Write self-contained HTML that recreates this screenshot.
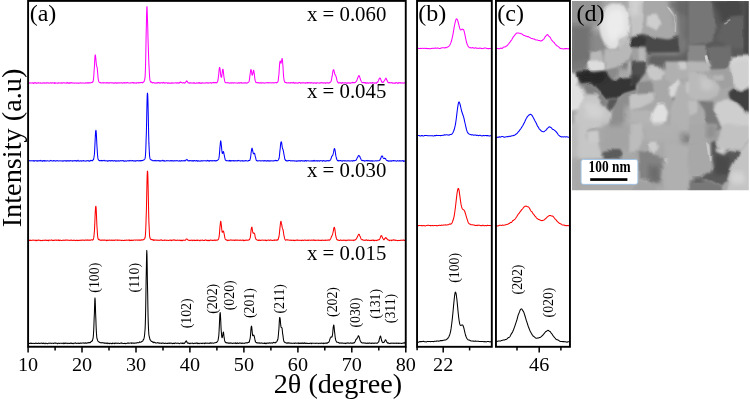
<!DOCTYPE html><html><head><meta charset="utf-8"><style>html,body{margin:0;padding:0;background:#fff}body{width:750px;height:400px;overflow:hidden;position:relative}</style></head><body><svg width="750" height="400" viewBox="0 0 750 400" style="position:absolute;left:0;top:0;will-change:transform;font-family:'Liberation Serif',serif">
<rect width="750" height="400" fill="#fff"/>
<defs><clipPath id="semclip"><rect x="572.0" y="1.0" width="176.79999999999995" height="189.2"/></clipPath><filter id="b3" x="-20%" y="-20%" width="140%" height="140%"><feGaussianBlur stdDeviation="2.4"/></filter><filter id="b15" x="-20%" y="-20%" width="140%" height="140%"><feGaussianBlur stdDeviation="1.2"/></filter><filter id="b08" x="-20%" y="-20%" width="140%" height="140%"><feGaussianBlur stdDeviation="0.7"/></filter><filter id="org" filterUnits="userSpaceOnUse" x="560" y="-10" width="200" height="210"><feTurbulence type="fractalNoise" baseFrequency="0.05" numOctaves="2" seed="3" result="t"/><feDisplacementMap in="SourceGraphic" in2="t" scale="5" xChannelSelector="R" yChannelSelector="G" result="d"/><feGaussianBlur in="d" stdDeviation="0.5"/></filter></defs>
<g clip-path="url(#semclip)"><g filter="url(#org)">
<rect x="566" y="-5" width="190" height="200" fill="#a8a8a8"/>
<g filter="url(#b3)"><polygon points="568.8,-3.2 604.0,-3.2 604.0,25.6 568.8,25.6" fill="#949494"/><polygon points="568.8,24.0 592.8,24.0 592.8,67.2 568.8,67.2" fill="#727272"/><polygon points="591.2,32.0 610.4,32.0 610.4,52.8 591.2,52.8" fill="#8a8a8a"/><polygon points="620.0,51.2 636.0,51.2 636.0,67.2 620.0,67.2" fill="#707070"/></g>
<g filter="url(#b15)"><polygon points="598.9,26.4 601.6,16.0 605.9,7.2 612.0,3.2 623.5,4.0 628.0,11.2 629.6,24.0 628.0,34.9 620.8,43.2 615.5,49.0 609.1,49.6 604.8,44.8 600.8,36.0" fill="#e0e0e0"/></g>
<g filter="url(#b3)"><polygon points="604.8,24.0 608.0,12.8 613.6,8.8 621.6,9.6 624.8,17.6 624.0,32.0 617.6,40.0 611.2,43.2 607.2,36.8" fill="#ececec"/></g>
<g filter="url(#b15)"><polygon points="627.2,-1.6 636.0,-1.6 636.0,15.2 628.3,14.4" fill="#c8c8c8"/><polygon points="618.4,39.2 627.2,36.0 629.6,46.4 624.8,51.5 618.7,49.9" fill="#c0c0c0"/><polygon points="590.4,52.0 601.6,50.4 603.2,65.6 589.6,65.6" fill="#b8b8b8"/><polygon points="630.4,-1.6 644.8,-1.6 644.0,20.8 640.0,33.6 630.4,36.0" fill="#c4c4c4"/></g>
<g filter="url(#b3)"><polygon points="630.4,-1.6 640.0,-1.6 638.4,14.4 630.4,16.0" fill="#d2d2d2"/></g>
<g filter="url(#b15)"><polygon points="644.8,-1.6 666.4,-1.6 675.2,14.4 676.0,33.6 668.8,38.4 656.0,36.8 641.6,32.0 644.0,20.8" fill="#a8a8a8"/><polygon points="647.2,16.0 656.0,14.4 661.6,22.4 656.0,30.4 646.4,25.6" fill="#cecece"/></g>
<g filter="url(#b08)"><polygon points="667.5,6.4 669.1,5.8 676.8,16.0 676.2,32.0 674.6,32.0 674.9,16.8" fill="#d0d0d0"/></g>
<g filter="url(#b3)"><polygon points="668.8,-1.6 696.0,-1.6 696.0,67.2 680.0,67.2 677.6,33.6 676.5,15.2" fill="#727272"/><polygon points="677.6,-1.6 696.0,-1.6 696.0,16.0 677.6,16.0" fill="#686868"/></g>
<g filter="url(#b15)"><polygon points="630.4,36.5 641.6,33.9 656.0,37.8 668.8,39.4 678.4,36.0 680.0,52.8 648.0,53.6 646.4,48.0 630.4,47.4" fill="#484848"/><polygon points="630.4,37.1 640.0,35.5 646.4,40.0 644.8,46.7 630.4,46.7" fill="#383838"/><polygon points="630.4,48.0 646.4,48.0 646.4,67.2 630.4,67.2" fill="#a0a0a0"/><polygon points="638.4,49.9 645.1,49.3 646.1,60.8 639.2,61.4" fill="#b8b8b8"/></g>
<g filter="url(#b3)"><polygon points="648.0,53.6 696.0,53.6 696.0,67.2 648.0,67.2" fill="#626262"/></g>
<g filter="url(#b15)"><polygon points="680.0,40.0 691.2,39.2 692.0,48.0 680.8,48.8" fill="#787878"/></g>
<g filter="url(#b3)"><polygon points="688.4,-1.6 754.0,-1.6 754.0,67.2 688.4,67.2" fill="#5a5a5a"/><polygon points="710.8,-1.6 742.8,-1.6 742.8,19.2 722.0,22.4" fill="#464646"/></g>
<g filter="url(#b15)"><polygon points="688.4,-1.6 710.8,-1.6 714.0,17.6 715.6,28.8 714.0,40.0 706.0,43.2 688.4,44.8" fill="#767676"/><polygon points="722.0,22.4 730.0,17.6 744.4,16.0 747.6,48.0 728.4,48.0 717.2,40.0" fill="#626262"/></g>
<g filter="url(#b08)"><polygon points="723.9,22.4 730.0,18.9 730.6,20.2 724.9,23.7" fill="#989898"/></g>
<g filter="url(#b3)"><polygon points="744.4,-1.6 750.8,-1.6 750.8,67.2 744.4,67.2" fill="#424242"/></g>
<g filter="url(#b15)"><polygon points="688.4,44.8 706.0,44.8 706.0,67.2 688.4,67.2" fill="#888888"/></g>
<g filter="url(#b08)"><polygon points="703.6,56.8 706.0,56.0 710.0,65.6 706.0,65.6" fill="#d0d0d0"/></g>
<g filter="url(#b15)"><polygon points="706.0,46.4 730.0,46.4 731.6,67.2 709.2,67.2" fill="#6e6e6e"/><polygon points="731.9,56.3 750.8,55.2 750.8,67.2 730.0,67.2" fill="#d4d4d4"/></g>
<g filter="url(#b3)"><polygon points="570.4,61.4 588.0,61.4 588.0,71.0 570.4,71.0" fill="#787878"/></g>
<g filter="url(#b15)"><polygon points="588.0,61.4 604.0,61.4 604.8,69.4 592.8,71.8 588.8,69.4" fill="#dcdcdc"/><polygon points="604.0,61.4 620.0,61.4 618.4,75.8 613.6,80.6 608.8,75.8 604.8,69.4" fill="#8a8a8a"/><polygon points="626.4,61.4 636.0,61.4 636.0,75.0 628.0,72.6" fill="#b8b8b8"/><polygon points="576.8,71.8 588.0,71.0 592.8,72.6 605.6,70.2 610.4,77.4 614.4,81.4 620.0,77.4 636.0,76.6 636.0,90.2 624.8,93.4 618.4,97.4 610.4,97.4 606.4,100.6 597.6,90.2 589.6,83.0 581.6,83.8 576.8,79.0" fill="#343434"/></g>
<g filter="url(#b3)"><polygon points="579.2,72.9 603.2,72.3 606.4,79.0 600.8,83.0 591.2,81.4 581.6,81.9" fill="#262626"/></g>
<g filter="url(#b15)"><polygon points="570.4,71.8 576.0,74.2 578.4,80.6 576.8,83.8 583.2,91.8 584.8,99.8 578.4,109.4 570.4,111.0" fill="#e0e0e0"/><polygon points="581.6,84.6 589.6,83.0 597.6,90.2 606.4,100.6 607.2,106.2 602.4,104.6 596.0,95.0 586.4,93.4" fill="#808080"/><polygon points="608.8,97.4 618.4,97.4 617.6,104.6 610.4,111.0 606.4,107.8" fill="#585858"/><polygon points="584.8,95.0 596.0,94.2 602.4,104.6 612.0,112.6 612.0,120.6 605.6,128.6 575.2,128.6 574.4,115.8 578.4,109.4" fill="#c6c6c6"/></g>
<g filter="url(#b3)"><polygon points="583.2,103.0 597.6,101.4 604.0,111.0 600.8,119.0 586.4,117.4" fill="#d2d2d2"/></g>
<g filter="url(#b15)"><polygon points="618.4,97.4 624.8,93.4 636.0,90.2 636.0,130.2 608.8,130.2 612.0,115.8 612.8,109.4" fill="#8e8e8e"/></g>
<g filter="url(#b3)"><polygon points="624.8,107.8 636.0,107.8 636.0,130.2 624.8,130.2" fill="#b0b0b0"/></g>
<g filter="url(#b15)"><polygon points="604.5,48.8 619.5,50.0 625.8,40.0 632.0,50.0 629.5,60.0 617.0,67.5 604.5,70.0" fill="#b8b8b8"/><polygon points="630.4,61.4 646.4,61.4 645.6,72.6 638.4,82.2 630.4,85.4" fill="#505050"/></g>
<g filter="url(#b3)"><polygon points="630.4,75.8 638.4,75.8 638.4,83.8 630.4,83.8" fill="#383838"/></g>
<g filter="url(#b15)"><polygon points="646.4,69.4 651.2,64.6 658.4,65.4 664.8,71.8 662.4,79.0 656.0,80.6 649.6,78.2" fill="#c8c8c8"/><polygon points="664.0,61.4 696.0,61.4 696.0,79.0 680.0,79.0 672.0,83.8 665.6,79.0" fill="#b0b0b0"/><polygon points="678.4,61.4 686.4,61.4 686.4,69.4 678.4,69.4" fill="#cccccc"/><polygon points="638.4,82.2 651.2,80.6 652.8,93.4 636.8,95.0" fill="#8c8c8c"/><polygon points="669.6,87.0 678.4,79.0 680.8,83.8 677.6,93.4 672.0,97.4 668.0,94.2" fill="#d8d8d8"/><polygon points="672.8,97.4 678.4,95.8 676.8,104.6 672.8,106.2" fill="#585858"/><polygon points="630.4,95.0 652.8,93.4 654.4,99.8 641.6,106.2 630.4,109.4" fill="#c4c4c4"/><polygon points="652.8,111.0 657.6,103.0 664.0,103.0 668.0,111.0 666.4,120.6 660.8,128.6 652.8,128.6 651.2,119.0" fill="#e0e0e0"/><polygon points="678.4,83.8 696.0,79.0 696.0,130.2 672.0,130.2 670.4,111.0" fill="#b2b2b2"/><polygon points="686.4,82.2 696.0,82.2 696.0,91.8 686.4,91.8" fill="#cccccc"/><polygon points="630.4,109.4 651.2,109.4 651.2,130.2 630.4,130.2" fill="#b4b4b4"/><polygon points="688.4,61.4 709.2,61.4 710.8,69.4 704.4,72.6 688.4,71.0" fill="#b6b6b6"/><polygon points="688.4,72.6 704.4,74.2 714.0,80.6 720.4,88.6 717.2,95.0 707.6,99.8 696.4,99.8 688.4,95.0" fill="#bababa"/></g>
<g filter="url(#b3)"><polygon points="699.6,77.4 710.8,79.0 716.4,87.0 709.2,90.2 701.2,87.0" fill="#c8c8c8"/></g>
<g filter="url(#b15)"><polygon points="730.0,66.2 738.0,61.4 754.0,61.4 754.0,83.8 741.2,91.0 734.8,87.0 733.2,75.8" fill="#d0d0d0"/><polygon points="710.8,71.0 730.0,67.8 733.2,87.0 722.0,90.2" fill="#a0a0a0"/><polygon points="714.0,74.2 723.6,74.2 723.6,80.6 714.0,80.6" fill="#b6b6b6"/><polygon points="728.4,93.4 733.2,89.4 741.2,91.8 754.0,87.0 754.0,114.2 742.8,109.4 736.4,103.0 730.0,99.0" fill="#404040"/><polygon points="712.4,109.4 715.6,103.0 727.6,99.0 736.4,103.8 743.6,111.0 754.0,117.4 754.0,130.2 723.6,130.2 717.2,117.4" fill="#cecece"/><polygon points="688.4,99.8 696.4,100.6 698.0,111.0 688.4,115.8" fill="#bebebe"/><polygon points="688.4,115.8 704.4,111.0 707.6,130.2 688.4,130.2" fill="#aaaaaa"/><polygon points="698.0,101.4 712.4,101.4 712.4,109.4 717.2,117.4 722.0,130.2 707.6,130.2 704.4,111.0" fill="#7a7a7a"/><polygon points="570.4,124.4 588.0,124.4 586.4,135.6 588.0,142.0 599.2,142.0 602.4,151.6 600.8,158.0 570.4,159.6" fill="#c6c6c6"/><polygon points="587.2,132.4 598.4,131.6 599.5,142.0 588.0,142.3" fill="#cacaca"/></g>
<g filter="url(#b3)"><polygon points="570.4,124.4 576.8,124.4 576.8,193.2 570.4,193.2" fill="#b8b8b8"/><polygon points="602.4,124.4 636.0,124.4 636.0,150.0 602.4,150.0" fill="#a4a4a4"/></g>
<g filter="url(#b15)"><polygon points="603.2,151.6 608.8,150.0 620.0,150.0 623.2,154.8 620.0,158.8 604.0,158.8" fill="#5c5c5c"/></g>
<g filter="url(#b3)"><polygon points="570.4,159.6 581.6,159.6 581.6,193.2 570.4,193.2" fill="#a8a8a8"/><polygon points="580.8,184.4 636.0,184.4 636.0,193.2 580.8,193.2" fill="#aaaaaa"/></g>
<g filter="url(#b15)"><polygon points="630.4,124.4 641.6,124.4 643.2,138.8 638.4,148.4 630.4,153.2" fill="#bcbcbc"/></g>
<g filter="url(#b3)"><polygon points="643.2,124.4 680.0,124.4 680.0,142.0 643.2,142.0" fill="#b0b0b0"/></g>
<g filter="url(#b15)"><polygon points="648.0,143.6 656.0,141.2 658.4,150.0 652.8,154.8 648.0,150.0" fill="#cccccc"/><polygon points="638.4,150.0 648.0,151.6 652.8,155.6 662.4,158.0 664.0,166.0 660.8,178.8 654.4,183.6 648.0,178.8 640.0,178.8 639.2,158.0" fill="#828282"/></g>
<g filter="url(#b3)"><polygon points="649.6,166.0 660.8,166.0 660.8,182.0 649.6,182.0" fill="#6c6c6c"/></g>
<g filter="url(#b08)"><polygon points="663.2,158.8 667.2,157.2 674.4,167.6 671.2,170.0" fill="#d8d8d8"/></g>
<g filter="url(#b3)"><polygon points="664.0,142.0 696.0,142.0 696.0,193.2 664.0,193.2" fill="#b0b0b0"/><polygon points="681.6,132.4 696.0,132.4 696.0,143.6 681.6,143.6" fill="#808080"/></g>
<g filter="url(#b15)"><polygon points="638.4,180.4 654.4,183.6 656.0,193.2 630.4,193.2" fill="#a2a2a2"/><polygon points="688.4,124.4 717.2,124.4 715.6,138.8 709.2,142.0 704.4,140.4 688.4,146.8" fill="#a8a8a8"/></g>
<g filter="url(#b3)"><polygon points="706.0,124.4 717.2,124.4 717.2,138.8 706.0,138.8" fill="#909090"/></g>
<g filter="url(#b15)"><polygon points="688.4,146.8 704.4,140.4 709.2,145.2 710.8,161.2 714.0,170.8 706.0,172.4 699.6,178.8 688.4,180.4" fill="#a8a8a8"/></g>
<g filter="url(#b08)"><polygon points="706.0,142.0 709.5,144.9 711.4,161.5 708.9,162.2" fill="#c8c8c8"/></g>
<g filter="url(#b15)"><polygon points="717.2,142.0 722.0,129.2 724.4,124.4 754.0,124.4 754.0,135.6 741.2,150.0 726.8,148.4 722.0,152.4" fill="#c2c2c2"/><polygon points="714.8,149.2 724.4,148.4 723.6,154.0 716.4,154.0" fill="#d0d0d0"/><polygon points="710.8,142.0 717.2,140.4 715.6,150.0 724.4,154.8 728.4,150.0 741.2,151.6 738.0,158.0 731.6,167.6 728.4,178.8 722.0,186.8 706.0,178.8 699.6,178.8 706.0,172.4 714.0,170.8 711.6,161.2" fill="#5a5a5a"/></g>
<g filter="url(#b3)"><polygon points="714.0,154.8 731.6,154.8 731.6,174.0 714.0,174.0" fill="#484848"/></g>
<g filter="url(#b15)"><polygon points="688.4,180.4 699.6,178.8 706.0,178.8 722.0,186.8 722.0,193.2 688.4,193.2" fill="#787878"/></g>
<g filter="url(#b3)"><polygon points="693.2,177.5 702.8,177.5 702.8,182.0 693.2,182.0" fill="#505050"/></g>
<g filter="url(#b15)"><polygon points="741.2,150.0 754.0,137.2 754.0,193.2 726.8,193.2 730.0,178.8 731.6,169.2 738.0,158.0" fill="#c4c4c4"/></g>
<g filter="url(#b3)"><polygon points="731.6,172.4 744.4,171.6 745.2,183.6 732.4,183.9" fill="#d4d4d4"/></g>
</g></g>
<rect x="581.05" y="159.45" width="56.8" height="24.9" rx="2.3" fill="#fff" stroke="#9cc3e6" stroke-width="0.9"/>
<text transform="translate(609.6,171.9) scale(1,1.2)" font-size="13.4" font-weight="bold" text-anchor="middle">100 nm</text>
<rect x="590.2" y="178.2" width="37.2" height="2.7" fill="#000"/>
<polyline points="28.1,82.8 28.3,82.8 28.5,82.9 28.7,83.0 29.0,82.9 29.2,82.9 29.4,83.0 29.6,82.9 29.8,82.8 30.0,82.9 30.3,82.9 30.5,82.9 30.7,83.0 30.9,83.1 31.1,83.0 31.3,82.9 31.6,82.9 31.8,83.0 32.0,83.1 32.2,83.0 32.4,83.0 32.6,82.9 32.8,82.7 33.1,82.9 33.3,83.4 33.5,83.4 33.7,83.1 33.9,83.0 34.1,82.9 34.4,82.8 34.6,82.7 34.8,83.0 35.0,82.9 35.2,82.6 35.4,82.7 35.7,82.8 35.9,83.1 36.1,83.2 36.3,83.0 36.5,83.0 36.7,83.2 36.9,83.1 37.2,83.1 37.4,83.1 37.6,83.0 37.8,82.9 38.0,83.0 38.2,83.0 38.5,82.8 38.7,82.8 38.9,82.9 39.1,83.0 39.3,82.9 39.5,82.9 39.8,82.9 40.0,83.0 40.2,82.9 40.4,83.0 40.6,83.1 40.8,83.1 41.0,82.9 41.3,83.0 41.5,83.1 41.7,83.2 41.9,83.0 42.1,83.0 42.3,82.9 42.6,82.9 42.8,83.1 43.0,82.9 43.2,82.8 43.4,83.0 43.6,83.0 43.9,82.9 44.1,82.8 44.3,82.8 44.5,83.0 44.7,83.2 44.9,83.1 45.1,83.0 45.4,82.9 45.6,83.0 45.8,83.2 46.0,83.2 46.2,82.9 46.4,82.8 46.7,83.0 46.9,83.0 47.1,82.9 47.3,82.8 47.5,82.8 47.7,82.9 48.0,83.0 48.2,82.9 48.4,83.0 48.6,83.2 48.8,83.1 49.0,83.1 49.2,83.1 49.5,83.0 49.7,83.0 49.9,82.9 50.1,82.9 50.3,82.8 50.5,82.7 50.8,82.9 51.0,83.1 51.2,83.1 51.4,82.8 51.6,82.9 51.8,83.0 52.1,83.0 52.3,82.9 52.5,82.8 52.7,82.9 52.9,83.0 53.1,83.0 53.3,83.0 53.6,83.0 53.8,82.8 54.0,82.8 54.2,83.2 54.4,83.4 54.6,82.9 54.9,82.6 55.1,83.0 55.3,83.1 55.5,83.0 55.7,83.1 55.9,83.1 56.2,83.0 56.4,82.9 56.6,82.9 56.8,82.9 57.0,83.0 57.2,83.1 57.4,83.1 57.7,83.1 57.9,83.1 58.1,83.2 58.3,83.1 58.5,82.8 58.7,82.9 59.0,82.9 59.2,82.9 59.4,83.0 59.6,83.0 59.8,82.9 60.0,83.0 60.3,83.0 60.5,82.9 60.7,83.0 60.9,83.2 61.1,83.2 61.3,82.9 61.5,82.8 61.8,83.0 62.0,83.2 62.2,83.2 62.4,83.0 62.6,82.8 62.8,83.0 63.1,83.0 63.3,82.9 63.5,82.8 63.7,82.7 63.9,82.6 64.1,82.8 64.4,83.0 64.6,83.0 64.8,83.0 65.0,82.9 65.2,82.9 65.4,83.0 65.6,83.1 65.9,83.0 66.1,83.0 66.3,83.1 66.5,82.8 66.7,82.7 66.9,82.8 67.2,82.9 67.4,82.9 67.6,82.5 67.8,82.7 68.0,83.1 68.2,83.1 68.5,83.1 68.7,83.1 68.9,83.1 69.1,82.9 69.3,82.7 69.5,82.9 69.7,83.2 70.0,83.2 70.2,83.1 70.4,82.9 70.6,82.8 70.8,82.9 71.0,82.9 71.3,82.6 71.5,82.6 71.7,82.9 71.9,83.0 72.1,83.0 72.3,83.1 72.6,83.0 72.8,82.8 73.0,83.0 73.2,83.0 73.4,82.9 73.6,83.0 73.8,83.1 74.1,83.0 74.3,83.1 74.5,83.1 74.7,83.1 74.9,83.0 75.1,83.0 75.4,83.0 75.6,82.9 75.8,82.9 76.0,82.9 76.2,83.0 76.4,83.1 76.7,83.1 76.9,83.1 77.1,83.0 77.3,83.1 77.5,83.1 77.7,82.9 77.9,82.9 78.2,83.1 78.4,83.2 78.6,83.0 78.8,83.0 79.0,83.1 79.2,83.0 79.5,83.0 79.7,83.1 79.9,83.0 80.1,82.9 80.3,83.0 80.5,83.0 80.8,82.8 81.0,83.0 81.2,83.1 81.4,83.0 81.6,82.9 81.8,82.9 82.0,82.9 82.3,82.9 82.5,82.9 82.7,83.0 82.9,82.9 83.1,83.0 83.3,83.1 83.6,82.9 83.8,82.9 84.0,83.0 84.2,83.0 84.4,83.0 84.6,83.2 84.9,83.2 85.1,83.1 85.3,83.1 85.5,83.0 85.7,82.8 85.9,82.8 86.2,83.0 86.4,83.0 86.6,83.0 86.8,83.0 87.0,82.7 87.2,82.8 87.4,83.0 87.7,82.8 87.9,82.9 88.1,83.1 88.3,82.8 88.5,82.7 88.7,82.9 89.0,82.9 89.2,82.8 89.4,82.9 89.6,82.8 89.8,82.8 90.0,82.9 90.3,83.0 90.5,82.9 90.7,82.8 90.9,82.6 91.1,82.5 91.3,82.5 91.5,82.5 91.8,82.6 92.0,82.6 92.2,82.3 92.4,82.0 92.6,82.1 92.8,81.9 93.1,81.3 93.3,80.4 93.5,79.1 93.7,77.0 93.9,74.2 94.1,70.8 94.4,67.0 94.6,63.0 94.8,59.2 95.0,56.4 95.2,54.9 95.4,55.2 95.6,56.9 95.9,59.2 96.1,61.7 96.3,63.9 96.5,65.4 96.7,66.2 96.9,66.7 97.2,67.7 97.4,69.7 97.6,72.0 97.8,74.5 98.0,76.9 98.2,79.0 98.5,80.5 98.7,81.4 98.9,81.9 99.1,82.0 99.3,82.2 99.5,82.4 99.7,82.6 100.0,82.7 100.2,82.7 100.4,82.6 100.6,82.5 100.8,82.6 101.0,82.9 101.3,83.0 101.5,82.9 101.7,82.9 101.9,83.0 102.1,83.0 102.3,82.8 102.6,82.7 102.8,82.8 103.0,83.0 103.2,82.9 103.4,82.8 103.6,82.9 103.8,83.0 104.1,82.8 104.3,82.7 104.5,82.7 104.7,82.8 104.9,82.9 105.1,82.9 105.4,82.9 105.6,82.9 105.8,82.8 106.0,82.8 106.2,82.9 106.4,83.0 106.7,82.8 106.9,82.7 107.1,82.8 107.3,83.0 107.5,82.9 107.7,82.6 107.9,82.7 108.2,83.0 108.4,83.0 108.6,82.9 108.8,83.1 109.0,83.1 109.2,82.9 109.5,82.8 109.7,82.9 109.9,82.9 110.1,82.8 110.3,82.7 110.5,82.7 110.8,82.8 111.0,83.0 111.2,83.0 111.4,82.9 111.6,82.7 111.8,82.8 112.0,82.9 112.3,82.8 112.5,82.8 112.7,82.9 112.9,83.0 113.1,83.1 113.3,83.2 113.6,83.0 113.8,82.9 114.0,83.0 114.2,83.0 114.4,83.1 114.6,83.1 114.9,82.9 115.1,82.8 115.3,83.0 115.5,82.9 115.7,82.7 115.9,82.7 116.1,82.8 116.4,83.1 116.6,83.3 116.8,83.1 117.0,83.1 117.2,83.1 117.4,83.0 117.7,82.8 117.9,82.8 118.1,82.9 118.3,82.8 118.5,82.9 118.7,82.9 119.0,82.9 119.2,82.9 119.4,82.8 119.6,82.9 119.8,82.9 120.0,82.9 120.2,82.9 120.5,82.9 120.7,82.7 120.9,82.7 121.1,82.8 121.3,82.7 121.5,82.8 121.8,83.0 122.0,83.0 122.2,82.9 122.4,83.0 122.6,83.2 122.8,83.2 123.1,83.1 123.3,83.0 123.5,82.7 123.7,82.6 123.9,82.7 124.1,82.8 124.3,83.0 124.6,82.9 124.8,82.6 125.0,82.5 125.2,82.7 125.4,82.9 125.6,83.0 125.9,83.0 126.1,83.1 126.3,83.0 126.5,82.8 126.7,82.6 126.9,82.7 127.2,82.6 127.4,82.6 127.6,82.7 127.8,82.6 128.0,82.7 128.2,82.9 128.4,82.9 128.7,82.9 128.9,83.0 129.1,82.9 129.3,82.9 129.5,82.9 129.7,83.0 130.0,83.1 130.2,83.1 130.4,82.9 130.6,82.8 130.8,82.8 131.0,82.8 131.3,82.8 131.5,83.0 131.7,82.9 131.9,82.8 132.1,82.7 132.3,82.6 132.5,82.5 132.8,82.7 133.0,82.7 133.2,82.6 133.4,82.9 133.6,83.1 133.8,83.1 134.1,82.9 134.3,82.7 134.5,82.7 134.7,82.9 134.9,82.9 135.1,83.0 135.4,83.1 135.6,83.0 135.8,82.9 136.0,82.9 136.2,82.7 136.4,83.0 136.6,83.2 136.9,83.0 137.1,82.8 137.3,82.8 137.5,82.8 137.7,82.7 137.9,82.8 138.2,83.0 138.4,82.9 138.6,82.7 138.8,82.9 139.0,83.0 139.2,82.8 139.5,82.6 139.7,82.6 139.9,82.7 140.1,82.7 140.3,82.6 140.5,82.7 140.7,82.7 141.0,82.4 141.2,82.3 141.4,82.5 141.6,82.5 141.8,82.5 142.0,82.8 142.3,82.9 142.5,82.8 142.7,82.6 142.9,82.4 143.1,82.2 143.3,82.2 143.6,82.2 143.8,81.8 144.0,81.4 144.2,81.2 144.4,80.9 144.6,80.2 144.8,78.9 145.1,76.6 145.3,72.7 145.5,66.7 145.7,58.5 145.9,48.2 146.1,36.4 146.4,24.2 146.6,13.8 146.8,7.7 147.0,6.5 147.2,10.4 147.4,17.5 147.7,25.7 147.9,33.7 148.1,40.9 148.3,47.3 148.5,53.2 148.7,59.0 148.9,64.6 149.2,69.4 149.4,73.4 149.6,76.7 149.8,79.0 150.0,80.4 150.2,81.1 150.5,81.4 150.7,81.9 150.9,82.3 151.1,82.1 151.3,81.9 151.5,82.0 151.8,82.2 152.0,82.5 152.2,82.9 152.4,83.0 152.6,82.9 152.8,82.7 153.0,82.5 153.3,82.5 153.5,82.6 153.7,82.6 153.9,82.7 154.1,82.8 154.3,82.7 154.6,83.0 154.8,83.3 155.0,83.1 155.2,83.0 155.4,83.2 155.6,83.1 155.9,83.0 156.1,83.1 156.3,83.1 156.5,83.0 156.7,82.8 156.9,82.7 157.1,82.8 157.4,83.1 157.6,83.0 157.8,82.7 158.0,82.5 158.2,82.6 158.4,82.7 158.7,82.6 158.9,82.8 159.1,83.0 159.3,83.1 159.5,82.9 159.7,82.7 160.0,82.9 160.2,83.1 160.4,83.1 160.6,82.9 160.8,82.8 161.0,82.8 161.2,82.8 161.5,82.7 161.7,82.7 161.9,82.6 162.1,82.7 162.3,82.9 162.5,83.1 162.8,83.0 163.0,82.9 163.2,82.7 163.4,82.4 163.6,82.5 163.8,82.8 164.1,82.8 164.3,82.8 164.5,83.1 164.7,83.0 164.9,82.9 165.1,83.0 165.3,83.1 165.6,82.9 165.8,82.8 166.0,82.8 166.2,82.8 166.4,82.8 166.6,82.8 166.9,82.8 167.1,83.0 167.3,83.3 167.5,83.4 167.7,83.3 167.9,83.0 168.2,82.8 168.4,82.9 168.6,83.1 168.8,83.1 169.0,83.1 169.2,83.1 169.4,83.1 169.7,83.2 169.9,83.0 170.1,83.0 170.3,83.2 170.5,83.3 170.7,83.2 171.0,83.1 171.2,83.2 171.4,83.3 171.6,82.9 171.8,82.7 172.0,82.7 172.3,82.8 172.5,83.0 172.7,83.2 172.9,83.0 173.1,83.1 173.3,83.1 173.5,82.9 173.8,82.9 174.0,82.9 174.2,82.9 174.4,82.9 174.6,83.0 174.8,83.0 175.1,83.0 175.3,82.9 175.5,82.8 175.7,82.7 175.9,82.8 176.1,83.0 176.4,83.0 176.6,83.0 176.8,83.3 177.0,83.2 177.2,82.8 177.4,82.7 177.6,82.8 177.9,82.8 178.1,82.9 178.3,83.1 178.5,83.2 178.7,83.2 178.9,83.0 179.2,82.8 179.4,82.8 179.6,83.0 179.8,82.7 180.0,82.2 180.2,82.0 180.5,82.1 180.7,82.4 180.9,82.5 181.1,82.4 181.3,82.5 181.5,82.5 181.7,82.5 182.0,82.8 182.2,82.9 182.4,83.0 182.6,83.0 182.8,83.0 183.0,82.9 183.3,82.8 183.5,82.6 183.7,82.6 183.9,82.8 184.1,82.8 184.3,83.0 184.6,83.1 184.8,83.1 185.0,82.9 185.2,82.6 185.4,82.3 185.6,82.1 185.8,81.9 186.1,81.7 186.3,81.4 186.5,81.2 186.7,80.9 186.9,81.0 187.1,81.4 187.4,81.8 187.6,82.2 187.8,82.5 188.0,82.7 188.2,82.9 188.4,82.9 188.7,82.8 188.9,82.7 189.1,82.7 189.3,82.9 189.5,83.1 189.7,83.1 189.9,83.1 190.2,82.9 190.4,82.7 190.6,82.8 190.8,83.0 191.0,83.0 191.2,83.0 191.5,83.1 191.7,83.0 191.9,82.9 192.1,83.0 192.3,83.0 192.5,83.0 192.8,83.1 193.0,83.1 193.2,82.9 193.4,82.7 193.6,82.8 193.8,83.1 194.1,83.2 194.3,82.9 194.5,82.8 194.7,83.1 194.9,83.2 195.1,83.2 195.3,83.2 195.6,83.3 195.8,83.3 196.0,83.3 196.2,83.3 196.4,83.0 196.6,82.8 196.9,82.8 197.1,82.9 197.3,83.0 197.5,83.2 197.7,83.1 197.9,82.9 198.2,82.8 198.4,82.8 198.6,83.0 198.8,83.1 199.0,82.8 199.2,82.6 199.4,82.6 199.7,83.0 199.9,83.3 200.1,83.2 200.3,82.9 200.5,82.9 200.7,83.0 201.0,83.2 201.2,83.4 201.4,83.3 201.6,82.9 201.8,82.8 202.0,83.0 202.3,83.0 202.5,82.8 202.7,82.7 202.9,83.0 203.1,83.1 203.3,83.0 203.5,82.9 203.8,82.9 204.0,83.0 204.2,83.1 204.4,83.0 204.6,83.0 204.8,83.0 205.1,82.9 205.3,82.9 205.5,83.0 205.7,82.9 205.9,82.8 206.1,82.9 206.4,82.9 206.6,82.8 206.8,82.8 207.0,82.9 207.2,83.0 207.4,83.1 207.6,82.9 207.9,82.7 208.1,82.9 208.3,83.1 208.5,83.1 208.7,83.0 208.9,83.0 209.2,83.0 209.4,83.0 209.6,82.8 209.8,82.8 210.0,82.8 210.2,82.7 210.5,82.6 210.7,82.8 210.9,83.0 211.1,83.2 211.3,83.2 211.5,83.1 211.7,82.8 212.0,82.6 212.2,82.7 212.4,82.8 212.6,82.9 212.8,82.8 213.0,82.6 213.3,82.6 213.5,82.5 213.7,82.4 213.9,82.6 214.1,82.9 214.3,82.7 214.6,82.6 214.8,82.7 215.0,82.8 215.2,82.6 215.4,82.6 215.6,82.5 215.8,82.5 216.1,82.9 216.3,83.0 216.5,82.8 216.7,82.6 216.9,82.5 217.1,82.3 217.4,82.1 217.6,81.5 217.8,80.8 218.0,80.0 218.2,78.6 218.4,76.8 218.7,74.7 218.9,72.4 219.1,70.0 219.3,68.3 219.5,67.5 219.7,67.5 219.9,68.3 220.2,70.0 220.4,72.2 220.6,74.2 220.8,75.7 221.0,76.6 221.2,77.2 221.5,77.3 221.7,76.5 221.9,75.0 222.1,73.4 222.3,71.7 222.5,70.1 222.8,69.3 223.0,69.2 223.2,70.1 223.4,71.9 223.6,73.9 223.8,75.8 224.0,77.5 224.3,79.0 224.5,80.2 224.7,81.0 224.9,81.7 225.1,82.3 225.3,82.4 225.6,82.5 225.8,82.8 226.0,82.9 226.2,82.8 226.4,82.7 226.6,82.7 226.9,82.7 227.1,82.8 227.3,82.9 227.5,82.8 227.7,82.6 227.9,82.6 228.1,82.6 228.4,82.8 228.6,83.0 228.8,82.9 229.0,82.9 229.2,83.0 229.4,83.1 229.7,83.1 229.9,83.1 230.1,82.9 230.3,82.8 230.5,82.9 230.7,83.0 231.0,82.9 231.2,82.9 231.4,83.1 231.6,82.9 231.8,82.7 232.0,82.7 232.2,82.7 232.5,82.7 232.7,82.7 232.9,83.0 233.1,83.3 233.3,83.1 233.5,82.9 233.8,82.9 234.0,82.8 234.2,82.7 234.4,82.7 234.6,82.7 234.8,82.9 235.1,82.9 235.3,83.0 235.5,83.0 235.7,82.9 235.9,82.9 236.1,82.9 236.3,83.0 236.6,83.0 236.8,83.0 237.0,83.0 237.2,83.1 237.4,83.1 237.6,83.0 237.9,83.1 238.1,83.1 238.3,82.8 238.5,82.7 238.7,82.7 238.9,82.7 239.2,82.7 239.4,83.0 239.6,83.2 239.8,83.0 240.0,82.8 240.2,82.7 240.4,82.7 240.7,82.7 240.9,82.9 241.1,83.1 241.3,82.9 241.5,82.6 241.7,82.6 242.0,82.8 242.2,82.9 242.4,83.0 242.6,83.0 242.8,83.1 243.0,83.3 243.3,83.1 243.5,82.9 243.7,82.9 243.9,82.8 244.1,82.7 244.3,82.8 244.5,82.9 244.8,83.2 245.0,83.1 245.2,82.8 245.4,82.9 245.6,82.9 245.8,82.8 246.1,82.8 246.3,82.9 246.5,83.1 246.7,83.3 246.9,83.2 247.1,83.1 247.4,82.9 247.6,82.7 247.8,82.7 248.0,82.6 248.2,82.3 248.4,82.2 248.6,82.1 248.9,81.7 249.1,81.2 249.3,80.4 249.5,79.1 249.7,77.4 249.9,75.6 250.2,73.8 250.4,72.2 250.6,70.6 250.8,69.6 251.0,69.5 251.2,70.2 251.5,71.2 251.7,72.7 251.9,74.2 252.1,75.0 252.3,75.2 252.5,74.9 252.7,74.2 253.0,73.0 253.2,71.8 253.4,70.7 253.6,70.2 253.8,70.7 254.0,72.0 254.3,73.5 254.5,75.5 254.7,77.4 254.9,78.9 255.1,80.1 255.3,80.9 255.6,81.6 255.8,82.3 256.0,82.5 256.2,82.4 256.4,82.5 256.6,82.7 256.8,82.8 257.1,82.8 257.3,82.9 257.5,82.8 257.7,82.4 257.9,82.4 258.1,82.5 258.4,82.7 258.6,82.9 258.8,82.9 259.0,82.7 259.2,82.8 259.4,83.0 259.7,83.0 259.9,82.9 260.1,82.8 260.3,83.0 260.5,82.9 260.7,82.7 260.9,82.8 261.2,83.0 261.4,83.1 261.6,83.1 261.8,82.9 262.0,82.8 262.2,82.7 262.5,82.7 262.7,82.9 262.9,82.9 263.1,82.8 263.3,82.9 263.5,83.0 263.8,82.9 264.0,83.0 264.2,83.1 264.4,83.1 264.6,83.0 264.8,82.9 265.0,82.9 265.3,82.9 265.5,83.0 265.7,82.9 265.9,82.8 266.1,82.8 266.3,82.8 266.6,82.8 266.8,82.8 267.0,82.9 267.2,82.9 267.4,82.7 267.6,82.5 267.9,82.6 268.1,82.8 268.3,82.7 268.5,82.9 268.7,83.0 268.9,82.9 269.1,82.8 269.4,82.8 269.6,82.9 269.8,82.8 270.0,82.7 270.2,82.8 270.4,82.9 270.7,82.9 270.9,82.8 271.1,82.7 271.3,82.8 271.5,82.9 271.7,83.0 272.0,83.0 272.2,82.9 272.4,82.7 272.6,82.7 272.8,82.7 273.0,82.6 273.2,82.6 273.5,82.9 273.7,83.0 273.9,82.9 274.1,82.9 274.3,82.9 274.5,82.7 274.8,82.7 275.0,82.7 275.2,82.7 275.4,82.7 275.6,82.5 275.8,82.5 276.1,82.6 276.3,82.7 276.5,82.7 276.7,82.9 276.9,82.7 277.1,82.3 277.3,82.3 277.6,82.2 277.8,81.8 278.0,81.4 278.2,80.6 278.4,79.0 278.6,77.0 278.9,74.7 279.1,71.9 279.3,68.6 279.5,65.7 279.7,63.3 279.9,61.7 280.2,61.0 280.4,61.5 280.6,62.2 280.8,62.8 281.0,63.2 281.2,62.7 281.4,61.4 281.7,60.1 281.9,59.0 282.1,58.5 282.3,59.0 282.5,60.5 282.7,63.3 283.0,66.9 283.2,70.5 283.4,73.8 283.6,76.4 283.8,78.3 284.0,79.6 284.3,80.8 284.5,81.7 284.7,82.1 284.9,82.3 285.1,82.4 285.3,82.4 285.5,82.3 285.8,82.3 286.0,82.5 286.2,82.9 286.4,83.0 286.6,82.8 286.8,82.6 287.1,82.8 287.3,82.9 287.5,82.9 287.7,83.0 287.9,83.0 288.1,82.8 288.4,82.8 288.6,82.9 288.8,82.8 289.0,82.9 289.2,83.0 289.4,82.9 289.6,82.8 289.9,82.9 290.1,83.0 290.3,82.9 290.5,82.7 290.7,82.6 290.9,82.9 291.2,82.9 291.4,82.8 291.6,82.7 291.8,82.7 292.0,82.6 292.2,82.7 292.5,83.0 292.7,83.0 292.9,82.8 293.1,82.6 293.3,82.4 293.5,82.6 293.7,82.9 294.0,83.0 294.2,83.2 294.4,83.2 294.6,82.9 294.8,82.8 295.0,82.9 295.3,82.8 295.5,83.0 295.7,83.1 295.9,82.9 296.1,82.8 296.3,82.9 296.6,82.9 296.8,82.9 297.0,82.9 297.2,83.1 297.4,83.3 297.6,83.2 297.8,83.0 298.1,82.9 298.3,82.8 298.5,82.7 298.7,82.9 298.9,82.8 299.1,82.6 299.4,82.5 299.6,82.5 299.8,82.5 300.0,82.7 300.2,82.9 300.4,83.1 300.7,83.1 300.9,82.9 301.1,82.8 301.3,82.9 301.5,82.9 301.7,82.9 302.0,82.8 302.2,82.8 302.4,82.9 302.6,82.9 302.8,82.8 303.0,82.7 303.2,83.0 303.5,82.9 303.7,82.7 303.9,82.8 304.1,82.8 304.3,82.8 304.5,83.0 304.8,83.1 305.0,83.0 305.2,83.3 305.4,83.3 305.6,82.9 305.8,82.7 306.1,82.8 306.3,82.9 306.5,83.0 306.7,82.9 306.9,82.7 307.1,82.6 307.3,82.9 307.6,83.1 307.8,82.8 308.0,82.6 308.2,82.6 308.4,82.7 308.6,82.9 308.9,82.9 309.1,82.8 309.3,82.8 309.5,82.9 309.7,82.8 309.9,82.8 310.2,83.0 310.4,83.1 310.6,82.9 310.8,82.7 311.0,82.6 311.2,82.6 311.4,82.8 311.7,82.9 311.9,82.7 312.1,82.7 312.3,82.9 312.5,83.0 312.7,82.9 313.0,82.9 313.2,82.9 313.4,83.1 313.6,83.3 313.8,83.1 314.0,82.8 314.3,82.8 314.5,82.9 314.7,82.8 314.9,82.8 315.1,82.8 315.3,82.9 315.5,83.2 315.8,83.3 316.0,83.3 316.2,83.4 316.4,83.1 316.6,82.7 316.8,82.7 317.1,82.7 317.3,82.7 317.5,82.8 317.7,83.0 317.9,82.9 318.1,82.9 318.4,82.9 318.6,83.0 318.8,82.9 319.0,82.9 319.2,82.9 319.4,83.1 319.6,83.1 319.9,82.9 320.1,82.9 320.3,82.9 320.5,82.7 320.7,82.8 320.9,82.9 321.2,82.8 321.4,82.7 321.6,82.6 321.8,82.5 322.0,82.7 322.2,83.0 322.5,83.0 322.7,82.8 322.9,82.9 323.1,83.0 323.3,83.0 323.5,82.7 323.7,82.7 324.0,83.1 324.2,83.0 324.4,82.8 324.6,82.7 324.8,82.7 325.0,82.9 325.3,83.1 325.5,83.3 325.7,83.2 325.9,82.8 326.1,82.9 326.3,83.0 326.6,83.0 326.8,83.0 327.0,82.8 327.2,82.6 327.4,82.7 327.6,82.9 327.8,82.8 328.1,83.0 328.3,83.2 328.5,83.2 328.7,83.0 328.9,82.9 329.1,83.0 329.4,83.0 329.6,82.7 329.8,82.4 330.0,82.5 330.2,82.4 330.4,82.0 330.7,81.7 330.9,81.6 331.1,81.2 331.3,80.6 331.5,79.8 331.7,78.4 331.9,77.0 332.2,76.0 332.4,74.8 332.6,73.2 332.8,71.9 333.0,70.8 333.2,70.0 333.5,69.7 333.7,69.8 333.9,70.3 334.1,71.0 334.3,71.9 334.5,73.0 334.8,74.0 335.0,74.6 335.2,74.9 335.4,75.3 335.6,75.6 335.8,76.0 336.0,76.5 336.3,77.3 336.5,78.2 336.7,79.3 336.9,80.2 337.1,80.8 337.3,81.4 337.6,81.8 337.8,82.2 338.0,82.6 338.2,82.9 338.4,82.9 338.6,82.8 338.9,82.9 339.1,83.0 339.3,82.8 339.5,82.6 339.7,82.7 339.9,82.9 340.1,83.0 340.4,83.0 340.6,82.7 340.8,82.6 341.0,82.9 341.2,83.1 341.4,82.9 341.7,82.9 341.9,83.2 342.1,82.9 342.3,82.5 342.5,82.6 342.7,82.7 343.0,82.7 343.2,82.8 343.4,83.0 343.6,83.0 343.8,82.9 344.0,82.9 344.2,83.0 344.5,83.1 344.7,82.9 344.9,82.7 345.1,82.8 345.3,82.8 345.5,82.7 345.8,83.0 346.0,83.2 346.2,83.1 346.4,83.1 346.6,83.1 346.8,83.0 347.1,83.1 347.3,83.3 347.5,83.1 347.7,82.8 347.9,82.8 348.1,82.9 348.3,82.9 348.6,82.9 348.8,82.8 349.0,82.8 349.2,83.0 349.4,83.1 349.6,83.2 349.9,83.0 350.1,82.8 350.3,83.1 350.5,83.3 350.7,83.2 350.9,83.0 351.2,83.0 351.4,82.9 351.6,82.8 351.8,82.7 352.0,82.5 352.2,82.3 352.4,82.2 352.7,82.6 352.9,83.0 353.1,83.0 353.3,82.7 353.5,82.5 353.7,82.5 354.0,82.6 354.2,82.7 354.4,82.7 354.6,82.6 354.8,82.7 355.0,82.5 355.3,82.3 355.5,82.3 355.7,82.0 355.9,81.7 356.1,81.6 356.3,81.4 356.5,81.1 356.8,80.6 357.0,80.0 357.2,79.4 357.4,78.8 357.6,78.3 357.8,77.7 358.1,77.0 358.3,76.4 358.5,76.1 358.7,75.8 358.9,75.5 359.1,75.7 359.4,76.3 359.6,76.8 359.8,77.3 360.0,77.9 360.2,78.6 360.4,79.3 360.6,79.8 360.9,80.4 361.1,80.9 361.3,81.4 361.5,81.8 361.7,82.1 361.9,82.3 362.2,82.4 362.4,82.6 362.6,82.7 362.8,82.6 363.0,82.5 363.2,82.4 363.5,82.6 363.7,82.8 363.9,82.7 364.1,82.6 364.3,82.8 364.5,82.6 364.7,82.6 365.0,82.9 365.2,83.1 365.4,82.8 365.6,82.5 365.8,82.7 366.0,83.1 366.3,83.1 366.5,83.1 366.7,83.0 366.9,83.1 367.1,83.2 367.3,82.9 367.6,82.7 367.8,82.9 368.0,82.9 368.2,82.9 368.4,83.1 368.6,83.3 368.8,83.2 369.1,83.0 369.3,82.9 369.5,82.9 369.7,82.8 369.9,82.7 370.1,82.8 370.4,83.0 370.6,82.9 370.8,82.8 371.0,83.0 371.2,83.0 371.4,83.0 371.7,83.0 371.9,83.2 372.1,83.0 372.3,82.6 372.5,82.6 372.7,82.9 372.9,82.9 373.2,82.8 373.4,82.9 373.6,82.9 373.8,83.0 374.0,83.0 374.2,83.0 374.5,83.1 374.7,83.3 374.9,83.0 375.1,82.8 375.3,82.8 375.5,82.9 375.8,82.9 376.0,82.9 376.2,83.2 376.4,83.2 376.6,82.9 376.8,82.7 377.0,82.4 377.3,82.1 377.5,82.2 377.7,82.2 377.9,81.7 378.1,81.3 378.3,80.9 378.6,80.2 378.8,79.6 379.0,79.2 379.2,78.8 379.4,78.3 379.6,78.1 379.9,78.1 380.1,78.0 380.3,78.3 380.5,78.8 380.7,79.3 380.9,79.7 381.1,80.2 381.4,81.0 381.6,81.6 381.8,81.9 382.0,82.2 382.2,82.4 382.4,82.4 382.7,82.3 382.9,82.3 383.1,82.4 383.3,82.3 383.5,82.0 383.7,81.5 384.0,81.1 384.2,80.8 384.4,80.5 384.6,80.3 384.8,80.1 385.0,79.6 385.2,79.2 385.5,78.8 385.7,78.3 385.9,78.1 386.1,78.3 386.3,78.7 386.5,79.3 386.8,79.9 387.0,80.3 387.2,80.7 387.4,81.1 387.6,81.5 387.8,82.1 388.1,82.5 388.3,82.7 388.5,82.6 388.7,82.5 388.9,82.6 389.1,82.6 389.3,82.5 389.6,82.7 389.8,82.9 390.0,83.0 390.2,83.0 390.4,82.8 390.6,82.7 390.9,82.7 391.1,82.7 391.3,82.6 391.5,82.6 391.7,82.8 391.9,82.9 392.2,82.7 392.4,82.9 392.6,83.2 392.8,83.2 393.0,83.1 393.2,83.0 393.4,82.9 393.7,82.9 393.9,83.1 394.1,83.3 394.3,83.3 394.5,83.1 394.7,83.0 395.0,83.2 395.2,83.4 395.4,83.3 395.6,83.0 395.8,82.6 396.0,82.5 396.3,82.8 396.5,82.7 396.7,82.6 396.9,82.7 397.1,82.9 397.3,83.2 397.5,83.2 397.8,83.2 398.0,83.0 398.2,82.9 398.4,83.1 398.6,83.1 398.8,82.8 399.1,82.6 399.3,82.6 399.5,82.8 399.7,83.0 399.9,83.0 400.1,82.8 400.4,82.9 400.6,82.9 400.8,82.7 401.0,82.9 401.2,83.1 401.4,83.0 401.6,82.9 401.9,82.8 402.1,82.7 402.3,82.7 402.5,83.0 402.7,83.1 402.9,83.1 403.2,83.1 403.4,83.0 403.6,82.9 403.8,82.9 404.0,83.0 404.2,83.0 404.5,82.8 404.7,83.0 404.9,83.1 405.1,83.1 405.3,83.1 405.5,83.1 405.7,83.0" fill="none" stroke="#ff00ff" stroke-width="1.05" stroke-linejoin="round"/>
<polyline points="28.1,160.9 28.3,160.9 28.5,161.1 28.7,161.1 29.0,160.7 29.2,160.6 29.4,160.8 29.6,160.7 29.8,160.8 30.0,160.8 30.3,160.8 30.5,160.8 30.7,161.0 30.9,160.9 31.1,160.8 31.3,160.8 31.6,160.8 31.8,160.9 32.0,160.9 32.2,160.9 32.4,160.8 32.6,160.7 32.8,160.8 33.1,160.8 33.3,160.9 33.5,160.7 33.7,160.6 33.9,161.1 34.1,161.3 34.4,161.1 34.6,160.8 34.8,160.7 35.0,160.6 35.2,160.7 35.4,160.7 35.7,160.8 35.9,160.8 36.1,160.8 36.3,161.0 36.5,161.0 36.7,160.7 36.9,160.6 37.2,160.9 37.4,161.1 37.6,160.9 37.8,160.8 38.0,160.7 38.2,160.8 38.5,160.9 38.7,160.7 38.9,160.7 39.1,161.0 39.3,160.8 39.5,160.7 39.8,160.7 40.0,160.5 40.2,160.4 40.4,160.7 40.6,160.9 40.8,160.9 41.0,160.8 41.3,160.8 41.5,160.9 41.7,160.8 41.9,160.8 42.1,161.1 42.3,161.3 42.6,161.2 42.8,160.8 43.0,160.6 43.2,160.6 43.4,160.8 43.6,160.9 43.9,160.8 44.1,160.9 44.3,161.1 44.5,160.9 44.7,160.6 44.9,160.6 45.1,160.8 45.4,160.9 45.6,160.9 45.8,160.8 46.0,160.9 46.2,161.0 46.4,161.0 46.7,161.0 46.9,160.8 47.1,160.7 47.3,160.8 47.5,160.8 47.7,160.8 48.0,160.9 48.2,161.0 48.4,160.9 48.6,160.9 48.8,161.0 49.0,161.0 49.2,161.0 49.5,161.1 49.7,161.1 49.9,161.0 50.1,160.7 50.3,160.6 50.5,160.5 50.8,160.4 51.0,160.7 51.2,160.8 51.4,160.7 51.6,160.8 51.8,160.9 52.1,160.9 52.3,161.0 52.5,161.0 52.7,160.9 52.9,160.9 53.1,160.9 53.3,160.6 53.6,160.6 53.8,160.8 54.0,160.9 54.2,160.9 54.4,160.8 54.6,160.7 54.9,160.7 55.1,160.9 55.3,161.0 55.5,161.1 55.7,161.1 55.9,161.0 56.2,160.9 56.4,160.7 56.6,160.7 56.8,160.8 57.0,160.9 57.2,160.7 57.4,160.6 57.7,160.7 57.9,160.8 58.1,161.0 58.3,161.0 58.5,160.9 58.7,160.9 59.0,160.9 59.2,161.0 59.4,160.9 59.6,160.8 59.8,160.7 60.0,160.7 60.3,160.8 60.5,160.9 60.7,160.9 60.9,161.0 61.1,161.0 61.3,160.9 61.5,160.9 61.8,160.8 62.0,160.7 62.2,160.7 62.4,160.9 62.6,161.1 62.8,161.1 63.1,161.1 63.3,161.1 63.5,160.9 63.7,160.8 63.9,160.8 64.1,160.7 64.4,160.7 64.6,160.8 64.8,160.9 65.0,160.8 65.2,160.8 65.4,160.9 65.6,160.7 65.9,160.8 66.1,161.1 66.3,161.1 66.5,160.9 66.7,160.7 66.9,160.7 67.2,161.0 67.4,161.0 67.6,160.9 67.8,160.8 68.0,160.6 68.2,160.7 68.5,160.8 68.7,160.9 68.9,161.1 69.1,160.9 69.3,160.7 69.5,160.9 69.7,160.9 70.0,160.7 70.2,160.5 70.4,160.8 70.6,160.9 70.8,160.8 71.0,161.0 71.3,160.9 71.5,160.8 71.7,160.8 71.9,160.8 72.1,160.7 72.3,160.8 72.6,161.2 72.8,161.3 73.0,160.9 73.2,160.7 73.4,160.7 73.6,160.8 73.8,160.8 74.1,160.7 74.3,160.7 74.5,160.8 74.7,160.9 74.9,160.6 75.1,160.7 75.4,160.8 75.6,160.6 75.8,160.6 76.0,161.0 76.2,161.1 76.4,160.8 76.7,160.8 76.9,161.0 77.1,161.0 77.3,160.8 77.5,160.9 77.7,160.7 77.9,160.3 78.2,160.3 78.4,160.6 78.6,160.8 78.8,160.9 79.0,161.1 79.2,161.0 79.5,161.0 79.7,161.2 79.9,161.1 80.1,160.9 80.3,160.8 80.5,160.7 80.8,160.8 81.0,161.0 81.2,161.2 81.4,161.2 81.6,160.9 81.8,160.8 82.0,160.7 82.3,160.8 82.5,161.0 82.7,161.0 82.9,161.0 83.1,160.9 83.3,160.6 83.6,160.6 83.8,160.9 84.0,161.0 84.2,161.0 84.4,161.0 84.6,160.9 84.9,161.0 85.1,161.0 85.3,161.0 85.5,161.0 85.7,161.1 85.9,161.2 86.2,161.1 86.4,161.0 86.6,160.9 86.8,160.7 87.0,160.5 87.2,160.6 87.4,160.7 87.7,160.7 87.9,160.7 88.1,160.6 88.3,160.7 88.5,160.9 88.7,160.7 89.0,160.8 89.2,161.1 89.4,161.1 89.6,161.0 89.8,161.1 90.0,161.1 90.3,160.9 90.5,160.7 90.7,160.4 90.9,160.3 91.1,160.4 91.3,160.5 91.5,160.5 91.8,160.6 92.0,160.8 92.2,160.9 92.4,160.7 92.6,160.3 92.8,160.0 93.1,160.0 93.3,159.9 93.5,159.6 93.7,158.7 93.9,157.7 94.1,156.5 94.4,154.4 94.6,151.3 94.8,147.4 95.0,143.2 95.2,138.8 95.4,134.7 95.6,131.6 95.9,130.3 96.1,131.0 96.3,133.4 96.5,137.0 96.7,141.0 96.9,145.3 97.2,149.6 97.4,153.0 97.6,155.5 97.8,157.4 98.0,158.7 98.2,159.4 98.5,159.8 98.7,160.1 98.9,160.3 99.1,160.3 99.3,160.6 99.5,160.8 99.7,160.7 100.0,160.5 100.2,160.5 100.4,160.7 100.6,160.8 100.8,160.7 101.0,160.6 101.3,160.5 101.5,160.4 101.7,160.7 101.9,161.0 102.1,160.9 102.3,160.7 102.6,160.6 102.8,160.6 103.0,160.5 103.2,160.4 103.4,160.5 103.6,160.7 103.8,160.7 104.1,160.7 104.3,160.8 104.5,160.6 104.7,160.4 104.9,160.6 105.1,160.7 105.4,160.8 105.6,160.9 105.8,160.9 106.0,160.9 106.2,160.9 106.4,160.8 106.7,160.7 106.9,160.7 107.1,160.8 107.3,160.9 107.5,161.2 107.7,161.3 107.9,161.0 108.2,160.8 108.4,160.9 108.6,161.0 108.8,160.9 109.0,160.7 109.2,160.6 109.5,160.7 109.7,160.8 109.9,160.9 110.1,160.9 110.3,160.8 110.5,160.8 110.8,161.0 111.0,161.0 111.2,160.7 111.4,160.5 111.6,160.6 111.8,160.8 112.0,160.8 112.3,160.7 112.5,160.5 112.7,160.5 112.9,160.7 113.1,161.0 113.3,161.0 113.6,161.1 113.8,161.0 114.0,160.7 114.2,160.7 114.4,160.8 114.6,160.6 114.9,160.7 115.1,160.9 115.3,160.8 115.5,160.9 115.7,161.1 115.9,161.1 116.1,160.9 116.4,161.0 116.6,161.1 116.8,160.9 117.0,160.7 117.2,160.8 117.4,160.9 117.7,160.9 117.9,161.0 118.1,160.8 118.3,160.8 118.5,160.9 118.7,160.9 119.0,160.8 119.2,160.9 119.4,161.0 119.6,161.1 119.8,161.0 120.0,160.9 120.2,160.8 120.5,160.7 120.7,160.5 120.9,160.7 121.1,160.9 121.3,160.9 121.5,160.8 121.8,160.7 122.0,160.7 122.2,160.6 122.4,160.6 122.6,160.8 122.8,160.8 123.1,160.7 123.3,160.5 123.5,160.8 123.7,161.1 123.9,161.2 124.1,161.2 124.3,161.1 124.6,161.1 124.8,161.1 125.0,161.0 125.2,160.8 125.4,160.8 125.6,161.0 125.9,161.1 126.1,161.1 126.3,161.2 126.5,161.2 126.7,161.0 126.9,160.8 127.2,160.8 127.4,160.9 127.6,160.7 127.8,160.8 128.0,160.8 128.2,160.8 128.4,160.9 128.7,160.8 128.9,160.7 129.1,160.9 129.3,160.9 129.5,160.7 129.7,160.5 130.0,160.4 130.2,160.6 130.4,160.8 130.6,160.8 130.8,160.7 131.0,160.7 131.3,160.9 131.5,160.9 131.7,160.8 131.9,160.7 132.1,160.6 132.3,160.6 132.5,160.6 132.8,160.7 133.0,160.9 133.2,161.0 133.4,161.0 133.6,160.9 133.8,160.8 134.1,160.9 134.3,160.9 134.5,160.8 134.7,160.9 134.9,161.0 135.1,160.8 135.4,160.9 135.6,161.2 135.8,161.1 136.0,160.8 136.2,160.9 136.4,160.9 136.6,160.8 136.9,160.6 137.1,160.7 137.3,160.6 137.5,160.6 137.7,160.7 137.9,160.7 138.2,160.8 138.4,160.9 138.6,160.9 138.8,160.7 139.0,160.7 139.2,160.9 139.5,160.8 139.7,160.4 139.9,160.4 140.1,160.7 140.3,160.9 140.5,160.9 140.7,160.7 141.0,160.6 141.2,160.7 141.4,160.4 141.6,160.4 141.8,160.6 142.0,160.7 142.3,160.6 142.5,160.5 142.7,160.5 142.9,160.5 143.1,160.2 143.3,160.0 143.6,159.9 143.8,159.9 144.0,159.9 144.2,159.8 144.4,159.5 144.6,159.3 144.8,159.0 145.1,158.2 145.3,156.9 145.5,154.7 145.7,151.5 145.9,146.6 146.1,139.9 146.4,131.7 146.6,122.2 146.8,112.2 147.0,103.0 147.2,96.0 147.4,93.0 147.7,94.4 147.9,99.5 148.1,107.5 148.3,117.1 148.5,127.0 148.7,136.0 148.9,143.4 149.2,149.2 149.4,153.4 149.6,156.0 149.8,157.5 150.0,158.4 150.2,159.2 150.5,159.6 150.7,159.7 150.9,159.7 151.1,159.8 151.3,160.0 151.5,160.1 151.8,160.0 152.0,160.1 152.2,160.3 152.4,160.5 152.6,160.7 152.8,160.7 153.0,160.7 153.3,160.7 153.5,160.7 153.7,160.6 153.9,160.6 154.1,160.5 154.3,160.6 154.6,160.8 154.8,160.8 155.0,160.5 155.2,160.4 155.4,160.6 155.6,160.7 155.9,161.0 156.1,161.0 156.3,160.8 156.5,160.6 156.7,160.8 156.9,160.8 157.1,160.7 157.4,160.8 157.6,160.8 157.8,160.6 158.0,160.7 158.2,160.6 158.4,160.5 158.7,160.8 158.9,160.9 159.1,160.9 159.3,161.0 159.5,160.9 159.7,160.6 160.0,160.8 160.2,161.1 160.4,161.0 160.6,160.7 160.8,160.8 161.0,161.0 161.2,160.9 161.5,160.7 161.7,160.7 161.9,160.8 162.1,160.9 162.3,160.7 162.5,160.5 162.8,160.3 163.0,160.3 163.2,160.7 163.4,160.9 163.6,160.8 163.8,160.8 164.1,161.0 164.3,160.9 164.5,160.7 164.7,160.9 164.9,161.1 165.1,161.1 165.3,161.0 165.6,160.9 165.8,160.9 166.0,161.0 166.2,160.9 166.4,160.8 166.6,160.7 166.9,160.6 167.1,160.8 167.3,160.9 167.5,160.8 167.7,160.7 167.9,160.7 168.2,160.8 168.4,160.8 168.6,160.7 168.8,160.8 169.0,160.9 169.2,160.9 169.4,160.9 169.7,160.9 169.9,160.8 170.1,160.7 170.3,160.8 170.5,161.0 170.7,160.9 171.0,160.6 171.2,160.7 171.4,161.0 171.6,160.9 171.8,160.5 172.0,160.5 172.3,160.6 172.5,160.8 172.7,161.0 172.9,160.9 173.1,160.9 173.3,161.1 173.5,161.0 173.8,160.7 174.0,160.7 174.2,160.8 174.4,160.7 174.6,160.6 174.8,160.9 175.1,161.0 175.3,161.0 175.5,160.8 175.7,160.7 175.9,160.8 176.1,160.8 176.4,160.6 176.6,160.7 176.8,160.8 177.0,160.6 177.2,160.7 177.4,160.7 177.6,160.7 177.9,160.9 178.1,161.1 178.3,161.0 178.5,160.9 178.7,160.9 178.9,160.9 179.2,160.8 179.4,160.6 179.6,160.7 179.8,161.0 180.0,161.0 180.2,161.1 180.5,161.2 180.7,161.0 180.9,160.9 181.1,161.0 181.3,160.9 181.5,160.6 181.7,160.6 182.0,160.7 182.2,160.7 182.4,160.8 182.6,160.9 182.8,160.9 183.0,160.9 183.3,160.9 183.5,160.8 183.7,160.7 183.9,160.6 184.1,160.4 184.3,160.5 184.6,160.9 184.8,161.0 185.0,160.9 185.2,160.9 185.4,160.8 185.6,160.5 185.8,160.2 186.1,160.0 186.3,159.7 186.5,159.7 186.7,159.6 186.9,159.4 187.1,159.6 187.4,160.0 187.6,160.2 187.8,160.6 188.0,160.8 188.2,160.8 188.4,160.9 188.7,160.9 188.9,160.7 189.1,160.5 189.3,160.5 189.5,160.8 189.7,160.9 189.9,160.9 190.2,160.6 190.4,160.5 190.6,160.7 190.8,160.8 191.0,160.8 191.2,160.8 191.5,160.9 191.7,160.9 191.9,160.7 192.1,160.7 192.3,160.6 192.5,160.5 192.8,160.8 193.0,161.2 193.2,161.2 193.4,160.9 193.6,160.7 193.8,160.5 194.1,160.7 194.3,160.8 194.5,160.6 194.7,160.6 194.9,160.8 195.1,160.9 195.3,161.0 195.6,161.0 195.8,160.8 196.0,160.9 196.2,160.8 196.4,160.6 196.6,160.6 196.9,160.6 197.1,160.8 197.3,161.2 197.5,161.2 197.7,160.9 197.9,160.8 198.2,161.0 198.4,161.0 198.6,160.8 198.8,160.8 199.0,161.0 199.2,161.1 199.4,161.0 199.7,161.1 199.9,161.0 200.1,161.0 200.3,161.1 200.5,161.1 200.7,161.0 201.0,160.9 201.2,160.7 201.4,160.6 201.6,160.7 201.8,160.9 202.0,160.9 202.3,160.8 202.5,160.8 202.7,161.0 202.9,160.9 203.1,160.9 203.3,160.8 203.5,160.7 203.8,160.7 204.0,160.8 204.2,160.8 204.4,160.8 204.6,160.8 204.8,160.8 205.1,160.8 205.3,160.7 205.5,160.7 205.7,160.9 205.9,161.0 206.1,161.1 206.4,161.0 206.6,160.9 206.8,160.8 207.0,160.5 207.2,160.3 207.4,160.6 207.6,160.6 207.9,160.7 208.1,160.9 208.3,160.9 208.5,160.7 208.7,160.6 208.9,160.8 209.2,161.1 209.4,161.1 209.6,160.8 209.8,160.6 210.0,160.7 210.2,160.7 210.5,160.6 210.7,160.8 210.9,160.8 211.1,161.0 211.3,161.0 211.5,160.8 211.7,160.6 212.0,160.7 212.2,160.9 212.4,160.9 212.6,160.7 212.8,160.6 213.0,160.6 213.3,160.8 213.5,160.9 213.7,160.8 213.9,160.8 214.1,160.8 214.3,160.6 214.6,160.5 214.8,160.7 215.0,160.9 215.2,160.7 215.4,160.7 215.6,160.9 215.8,160.9 216.1,160.7 216.3,160.6 216.5,160.8 216.7,160.9 216.9,160.7 217.1,160.4 217.4,160.3 217.6,160.3 217.8,160.0 218.0,159.8 218.2,159.8 218.4,159.5 218.7,159.0 218.9,158.2 219.1,157.0 219.3,155.3 219.5,153.1 219.7,150.5 219.9,147.5 220.2,144.7 220.4,142.3 220.6,140.9 220.8,141.0 221.0,142.1 221.2,144.2 221.5,146.8 221.7,149.0 221.9,150.9 222.1,152.4 222.3,153.4 222.5,153.5 222.8,153.0 223.0,152.2 223.2,151.6 223.4,151.5 223.6,151.9 223.8,152.8 224.0,154.0 224.3,155.4 224.5,156.5 224.7,157.4 224.9,158.2 225.1,159.2 225.3,159.9 225.6,160.1 225.8,160.4 226.0,160.6 226.2,160.7 226.4,160.7 226.6,160.5 226.9,160.5 227.1,160.7 227.3,160.8 227.5,160.7 227.7,160.7 227.9,160.8 228.1,160.9 228.4,160.9 228.6,160.8 228.8,160.8 229.0,160.9 229.2,160.8 229.4,160.5 229.7,160.4 229.9,160.7 230.1,161.2 230.3,161.1 230.5,160.9 230.7,160.7 231.0,160.5 231.2,160.7 231.4,161.0 231.6,160.9 231.8,160.7 232.0,160.6 232.2,160.7 232.5,160.8 232.7,160.8 232.9,161.0 233.1,160.9 233.3,160.6 233.5,160.5 233.8,160.9 234.0,161.0 234.2,160.9 234.4,160.7 234.6,160.7 234.8,160.9 235.1,160.9 235.3,160.7 235.5,160.6 235.7,160.8 235.9,160.8 236.1,160.7 236.3,160.7 236.6,160.8 236.8,161.0 237.0,161.1 237.2,160.9 237.4,160.7 237.6,160.6 237.9,160.6 238.1,160.6 238.3,160.5 238.5,160.4 238.7,160.6 238.9,160.7 239.2,160.7 239.4,160.8 239.6,160.8 239.8,160.8 240.0,161.0 240.2,161.1 240.4,161.0 240.7,160.9 240.9,160.7 241.1,160.7 241.3,160.8 241.5,160.8 241.7,160.8 242.0,160.9 242.2,160.7 242.4,160.5 242.6,160.7 242.8,161.0 243.0,160.9 243.3,160.8 243.5,161.0 243.7,161.0 243.9,161.1 244.1,161.2 244.3,161.0 244.5,160.7 244.8,160.7 245.0,160.8 245.2,160.7 245.4,160.5 245.6,160.5 245.8,160.8 246.1,160.9 246.3,160.8 246.5,160.8 246.7,160.8 246.9,160.8 247.1,161.0 247.4,161.0 247.6,161.0 247.8,161.0 248.0,161.0 248.2,160.8 248.4,160.6 248.6,160.6 248.9,160.7 249.1,160.5 249.3,160.3 249.5,160.4 249.7,160.5 249.9,160.1 250.2,159.2 250.4,158.2 250.6,157.2 250.8,155.8 251.0,153.8 251.2,152.0 251.5,150.4 251.7,149.2 251.9,148.4 252.1,148.2 252.3,148.8 252.5,149.8 252.7,151.0 253.0,152.2 253.2,153.1 253.4,153.7 253.6,153.8 253.8,153.6 254.0,153.4 254.3,153.2 254.5,153.2 254.7,153.7 254.9,154.7 255.1,155.7 255.3,156.5 255.6,157.3 255.8,158.4 256.0,159.3 256.2,160.0 256.4,160.5 256.6,160.7 256.8,160.6 257.1,160.6 257.3,160.9 257.5,161.0 257.7,160.9 257.9,160.9 258.1,160.9 258.4,160.8 258.6,160.7 258.8,160.7 259.0,160.7 259.2,160.7 259.4,160.7 259.7,160.8 259.9,160.7 260.1,160.7 260.3,160.7 260.5,160.8 260.7,161.0 260.9,161.1 261.2,161.0 261.4,160.9 261.6,160.8 261.8,160.7 262.0,160.7 262.2,160.7 262.5,160.7 262.7,160.8 262.9,160.9 263.1,160.8 263.3,160.7 263.5,160.9 263.8,160.9 264.0,160.7 264.2,160.6 264.4,160.5 264.6,160.7 264.8,161.0 265.0,161.0 265.3,161.0 265.5,160.7 265.7,160.6 265.9,160.7 266.1,160.8 266.3,160.9 266.6,161.1 266.8,161.1 267.0,161.1 267.2,161.0 267.4,160.8 267.6,160.6 267.9,160.6 268.1,160.8 268.3,160.8 268.5,160.7 268.7,160.9 268.9,161.2 269.1,161.1 269.4,160.8 269.6,160.9 269.8,160.8 270.0,160.8 270.2,161.0 270.4,160.9 270.7,160.8 270.9,160.9 271.1,161.0 271.3,160.9 271.5,160.8 271.7,160.7 272.0,160.7 272.2,160.8 272.4,160.9 272.6,160.9 272.8,161.0 273.0,161.1 273.2,160.9 273.5,160.7 273.7,160.7 273.9,160.8 274.1,160.9 274.3,160.8 274.5,160.8 274.8,160.8 275.0,160.6 275.2,160.4 275.4,160.3 275.6,160.4 275.8,160.6 276.1,160.6 276.3,160.6 276.5,160.5 276.7,160.5 276.9,160.7 277.1,160.7 277.3,160.8 277.6,160.7 277.8,160.5 278.0,160.3 278.2,160.1 278.4,159.8 278.6,159.4 278.9,158.8 279.1,158.1 279.3,156.9 279.5,155.2 279.7,153.1 279.9,150.9 280.2,148.7 280.4,146.4 280.6,144.4 280.8,142.9 281.0,142.1 281.2,141.8 281.4,141.9 281.7,142.8 281.9,144.5 282.1,146.1 282.3,147.4 282.5,148.3 282.7,148.8 283.0,149.4 283.2,150.3 283.4,151.1 283.6,152.1 283.8,153.3 284.0,154.6 284.3,156.0 284.5,157.3 284.7,158.4 284.9,159.3 285.1,159.7 285.3,159.9 285.5,160.3 285.8,160.6 286.0,160.6 286.2,160.6 286.4,160.5 286.6,160.6 286.8,160.9 287.1,160.9 287.3,160.7 287.5,160.9 287.7,160.9 287.9,160.7 288.1,160.7 288.4,160.6 288.6,160.7 288.8,160.7 289.0,160.5 289.2,160.4 289.4,160.5 289.6,160.5 289.9,160.5 290.1,160.7 290.3,160.8 290.5,161.0 290.7,160.9 290.9,160.8 291.2,160.7 291.4,160.7 291.6,160.9 291.8,161.0 292.0,161.0 292.2,160.8 292.5,160.8 292.7,160.9 292.9,160.8 293.1,160.9 293.3,160.9 293.5,160.7 293.7,160.8 294.0,160.8 294.2,160.8 294.4,160.9 294.6,161.0 294.8,161.2 295.0,161.1 295.3,160.9 295.5,160.9 295.7,161.0 295.9,160.8 296.1,160.8 296.3,161.1 296.6,161.1 296.8,161.0 297.0,161.1 297.2,161.1 297.4,160.9 297.6,160.9 297.8,160.8 298.1,160.9 298.3,161.0 298.5,160.8 298.7,160.7 298.9,160.9 299.1,161.0 299.4,160.9 299.6,160.9 299.8,160.7 300.0,160.7 300.2,160.9 300.4,161.1 300.7,160.8 300.9,160.7 301.1,160.8 301.3,160.7 301.5,160.7 301.7,160.6 302.0,160.5 302.2,160.8 302.4,161.0 302.6,161.0 302.8,161.1 303.0,161.1 303.2,161.1 303.5,160.9 303.7,160.7 303.9,160.7 304.1,160.8 304.3,160.9 304.5,161.1 304.8,161.1 305.0,160.8 305.2,160.6 305.4,160.6 305.6,160.6 305.8,160.6 306.1,160.6 306.3,160.7 306.5,161.0 306.7,161.2 306.9,161.0 307.1,160.7 307.3,160.7 307.6,160.7 307.8,160.7 308.0,160.7 308.2,160.8 308.4,160.8 308.6,160.8 308.9,160.9 309.1,161.0 309.3,161.0 309.5,161.0 309.7,160.9 309.9,160.9 310.2,160.9 310.4,160.9 310.6,160.9 310.8,160.9 311.0,160.8 311.2,160.7 311.4,160.7 311.7,160.9 311.9,161.2 312.1,161.1 312.3,160.9 312.5,160.7 312.7,160.8 313.0,160.9 313.2,160.8 313.4,160.5 313.6,160.7 313.8,161.1 314.0,161.2 314.3,161.1 314.5,160.7 314.7,160.4 314.9,160.5 315.1,160.8 315.3,161.0 315.5,161.0 315.8,160.9 316.0,160.9 316.2,161.0 316.4,161.0 316.6,160.9 316.8,160.6 317.1,160.5 317.3,160.7 317.5,160.9 317.7,161.1 317.9,161.2 318.1,161.0 318.4,160.8 318.6,160.7 318.8,160.7 319.0,160.7 319.2,161.0 319.4,161.1 319.6,161.1 319.9,160.9 320.1,160.6 320.3,160.7 320.5,160.7 320.7,160.6 320.9,160.7 321.2,160.8 321.4,160.8 321.6,160.8 321.8,160.8 322.0,160.7 322.2,160.7 322.5,161.1 322.7,161.1 322.9,160.8 323.1,160.6 323.3,160.7 323.5,160.7 323.7,160.5 324.0,160.5 324.2,160.8 324.4,160.9 324.6,161.0 324.8,161.1 325.0,160.9 325.3,160.9 325.5,161.1 325.7,161.0 325.9,160.7 326.1,160.7 326.3,160.8 326.6,161.0 326.8,161.0 327.0,160.8 327.2,160.7 327.4,160.6 327.6,160.5 327.8,160.7 328.1,161.0 328.3,161.0 328.5,160.7 328.7,160.6 328.9,160.8 329.1,160.8 329.4,160.7 329.6,160.8 329.8,160.7 330.0,160.4 330.2,160.0 330.4,159.8 330.7,159.5 330.9,159.1 331.1,158.6 331.3,157.8 331.5,157.1 331.7,156.7 331.9,156.3 332.2,155.8 332.4,155.8 332.6,155.6 332.8,155.0 333.0,154.3 333.2,153.7 333.5,152.7 333.7,151.5 333.9,150.4 334.1,149.3 334.3,148.6 334.5,148.5 334.8,149.2 335.0,150.1 335.2,151.0 335.4,152.5 335.6,154.2 335.8,155.4 336.0,156.4 336.3,157.7 336.5,158.6 336.7,159.0 336.9,159.5 337.1,159.9 337.3,160.3 337.6,160.7 337.8,160.7 338.0,160.5 338.2,160.4 338.4,160.6 338.6,160.9 338.9,161.0 339.1,161.0 339.3,160.8 339.5,160.7 339.7,160.6 339.9,160.5 340.1,160.5 340.4,160.6 340.6,160.5 340.8,160.6 341.0,160.9 341.2,161.0 341.4,160.9 341.7,160.8 341.9,160.7 342.1,161.0 342.3,161.2 342.5,160.9 342.7,160.7 343.0,160.8 343.2,160.8 343.4,160.7 343.6,160.6 343.8,160.7 344.0,160.9 344.2,161.0 344.5,161.0 344.7,160.7 344.9,160.6 345.1,160.8 345.3,160.8 345.5,160.8 345.8,160.9 346.0,160.9 346.2,160.8 346.4,161.0 346.6,161.0 346.8,160.9 347.1,160.9 347.3,160.9 347.5,160.8 347.7,160.8 347.9,160.9 348.1,160.9 348.3,160.8 348.6,160.8 348.8,160.9 349.0,160.9 349.2,160.8 349.4,160.9 349.6,160.9 349.9,160.9 350.1,160.9 350.3,161.0 350.5,160.9 350.7,161.0 350.9,161.0 351.2,160.9 351.4,160.8 351.6,160.8 351.8,160.7 352.0,160.8 352.2,160.9 352.4,161.0 352.7,161.1 352.9,160.9 353.1,160.6 353.3,160.6 353.5,160.6 353.7,160.7 354.0,160.9 354.2,160.8 354.4,160.7 354.6,160.6 354.8,160.6 355.0,160.5 355.3,160.4 355.5,160.4 355.7,160.3 355.9,160.2 356.1,160.2 356.3,160.0 356.5,159.4 356.8,158.7 357.0,158.2 357.2,157.8 357.4,157.6 357.6,157.4 357.8,156.9 358.1,156.3 358.3,155.9 358.5,155.6 358.7,155.5 358.9,155.6 359.1,155.7 359.4,155.9 359.6,156.2 359.8,156.6 360.0,157.1 360.2,157.4 360.4,158.0 360.6,158.5 360.9,158.9 361.1,159.4 361.3,159.8 361.5,160.0 361.7,160.4 361.9,160.3 362.2,160.2 362.4,160.5 362.6,160.6 362.8,160.6 363.0,160.6 363.2,160.6 363.5,160.7 363.7,160.8 363.9,160.6 364.1,160.5 364.3,160.7 364.5,161.1 364.7,161.2 365.0,161.0 365.2,160.9 365.4,160.9 365.6,160.8 365.8,160.7 366.0,160.6 366.3,160.6 366.5,160.8 366.7,160.7 366.9,160.5 367.1,160.7 367.3,160.9 367.6,160.8 367.8,160.5 368.0,160.4 368.2,160.5 368.4,160.7 368.6,160.9 368.8,160.8 369.1,160.7 369.3,160.9 369.5,161.0 369.7,161.0 369.9,160.8 370.1,160.7 370.4,160.9 370.6,161.1 370.8,161.0 371.0,160.7 371.2,160.8 371.4,160.9 371.7,160.7 371.9,160.8 372.1,161.1 372.3,161.1 372.5,160.9 372.7,160.8 372.9,160.8 373.2,160.9 373.4,160.9 373.6,160.9 373.8,161.0 374.0,161.0 374.2,161.0 374.5,160.9 374.7,160.9 374.9,160.9 375.1,160.9 375.3,160.8 375.5,160.7 375.8,160.8 376.0,160.9 376.2,160.9 376.4,160.9 376.6,160.9 376.8,160.8 377.0,160.7 377.3,160.7 377.5,160.9 377.7,160.8 377.9,160.7 378.1,160.8 378.3,160.8 378.6,160.8 378.8,160.8 379.0,160.8 379.2,160.5 379.4,160.3 379.6,160.3 379.9,160.1 380.1,159.5 380.3,159.1 380.5,159.0 380.7,158.6 380.9,158.0 381.1,157.2 381.4,156.6 381.6,156.4 381.8,156.2 382.0,155.9 382.2,155.9 382.4,156.1 382.7,156.6 382.9,157.2 383.1,157.7 383.3,158.1 383.5,158.3 383.7,158.3 384.0,158.6 384.2,158.5 384.4,158.2 384.6,158.1 384.8,158.3 385.0,158.5 385.2,158.6 385.5,158.6 385.7,158.9 385.9,159.3 386.1,159.6 386.3,160.0 386.5,160.3 386.8,160.4 387.0,160.5 387.2,160.6 387.4,160.5 387.6,160.6 387.8,160.8 388.1,161.0 388.3,161.1 388.5,161.1 388.7,160.9 388.9,161.0 389.1,161.1 389.3,160.9 389.6,160.9 389.8,160.9 390.0,160.8 390.2,160.7 390.4,161.0 390.6,161.1 390.9,160.9 391.1,161.0 391.3,161.2 391.5,161.2 391.7,160.8 391.9,160.7 392.2,160.8 392.4,160.8 392.6,160.9 392.8,161.0 393.0,160.8 393.2,160.6 393.4,160.6 393.7,160.5 393.9,160.5 394.1,160.9 394.3,160.9 394.5,160.7 394.7,160.7 395.0,160.7 395.2,160.7 395.4,160.7 395.6,160.9 395.8,160.9 396.0,161.0 396.3,161.0 396.5,161.2 396.7,161.2 396.9,161.1 397.1,160.9 397.3,160.7 397.5,160.6 397.8,160.7 398.0,160.8 398.2,161.0 398.4,161.0 398.6,161.0 398.8,160.9 399.1,160.8 399.3,160.7 399.5,160.6 399.7,160.9 399.9,161.1 400.1,161.0 400.4,160.9 400.6,160.8 400.8,160.7 401.0,160.9 401.2,160.9 401.4,160.9 401.6,160.9 401.9,160.8 402.1,160.7 402.3,160.6 402.5,160.6 402.7,160.7 402.9,160.9 403.2,161.2 403.4,161.4 403.6,161.1 403.8,160.7 404.0,160.9 404.2,161.2 404.5,161.0 404.7,161.0 404.9,161.0 405.1,161.0 405.3,160.9 405.5,160.8 405.7,160.8" fill="none" stroke="#0000ff" stroke-width="1.05" stroke-linejoin="round"/>
<polyline points="28.1,240.2 28.3,240.5 28.5,240.5 28.7,240.4 29.0,240.4 29.2,240.5 29.4,240.6 29.6,240.5 29.8,240.2 30.0,239.9 30.3,240.1 30.5,240.4 30.7,240.4 30.9,240.5 31.1,240.5 31.3,240.4 31.6,240.3 31.8,240.2 32.0,240.2 32.2,240.3 32.4,240.2 32.6,240.0 32.8,240.1 33.1,240.3 33.3,240.3 33.5,240.1 33.7,240.0 33.9,240.2 34.1,240.3 34.4,240.2 34.6,240.4 34.8,240.3 35.0,240.2 35.2,240.1 35.4,240.2 35.7,240.4 35.9,240.6 36.1,240.4 36.3,240.5 36.5,240.6 36.7,240.3 36.9,240.2 37.2,240.4 37.4,240.5 37.6,240.4 37.8,240.2 38.0,240.1 38.2,240.1 38.5,240.1 38.7,240.1 38.9,240.3 39.1,240.4 39.3,240.2 39.5,240.2 39.8,240.3 40.0,240.4 40.2,240.5 40.4,240.6 40.6,240.3 40.8,240.3 41.0,240.5 41.3,240.5 41.5,240.4 41.7,240.4 41.9,240.6 42.1,240.5 42.3,240.2 42.6,240.2 42.8,240.6 43.0,240.5 43.2,240.3 43.4,240.2 43.6,240.2 43.9,240.3 44.1,240.4 44.3,240.3 44.5,240.2 44.7,240.2 44.9,240.5 45.1,240.4 45.4,240.1 45.6,240.0 45.8,240.1 46.0,240.1 46.2,240.2 46.4,240.4 46.7,240.5 46.9,240.4 47.1,240.3 47.3,240.4 47.5,240.5 47.7,240.4 48.0,240.2 48.2,240.3 48.4,240.6 48.6,240.6 48.8,240.3 49.0,240.1 49.2,240.1 49.5,240.2 49.7,240.3 49.9,240.3 50.1,240.3 50.3,240.3 50.5,240.3 50.8,240.3 51.0,240.3 51.2,240.2 51.4,240.0 51.6,239.8 51.8,239.8 52.1,240.1 52.3,240.5 52.5,240.5 52.7,240.4 52.9,240.4 53.1,240.5 53.3,240.2 53.6,240.2 53.8,240.5 54.0,240.6 54.2,240.5 54.4,240.3 54.6,240.1 54.9,240.0 55.1,240.1 55.3,240.2 55.5,240.1 55.7,240.0 55.9,240.0 56.2,240.1 56.4,240.4 56.6,240.5 56.8,240.3 57.0,240.1 57.2,240.1 57.4,240.3 57.7,240.3 57.9,240.3 58.1,240.4 58.3,240.4 58.5,240.1 58.7,239.9 59.0,240.2 59.2,240.5 59.4,240.6 59.6,240.5 59.8,240.3 60.0,240.1 60.3,240.2 60.5,240.2 60.7,240.2 60.9,240.4 61.1,240.5 61.3,240.5 61.5,240.4 61.8,240.4 62.0,240.5 62.2,240.5 62.4,240.3 62.6,240.2 62.8,240.3 63.1,240.3 63.3,240.1 63.5,240.0 63.7,240.2 63.9,240.4 64.1,240.4 64.4,240.3 64.6,240.2 64.8,240.1 65.0,240.0 65.2,240.1 65.4,240.1 65.6,240.1 65.9,240.2 66.1,240.3 66.3,240.2 66.5,240.2 66.7,240.0 66.9,239.8 67.2,239.9 67.4,240.2 67.6,240.3 67.8,240.2 68.0,240.2 68.2,240.3 68.5,240.3 68.7,240.2 68.9,240.1 69.1,240.2 69.3,240.2 69.5,240.4 69.7,240.5 70.0,240.5 70.2,240.5 70.4,240.3 70.6,240.1 70.8,240.2 71.0,240.1 71.3,240.0 71.5,240.1 71.7,240.3 71.9,240.4 72.1,240.5 72.3,240.4 72.6,240.4 72.8,240.3 73.0,240.2 73.2,240.1 73.4,240.3 73.6,240.4 73.8,240.3 74.1,240.4 74.3,240.3 74.5,240.3 74.7,240.3 74.9,240.4 75.1,240.4 75.4,240.5 75.6,240.6 75.8,240.5 76.0,240.4 76.2,240.1 76.4,240.2 76.7,240.5 76.9,240.4 77.1,240.4 77.3,240.4 77.5,240.3 77.7,240.4 77.9,240.6 78.2,240.5 78.4,240.3 78.6,240.4 78.8,240.4 79.0,240.2 79.2,240.2 79.5,240.4 79.7,240.5 79.9,240.4 80.1,240.2 80.3,240.1 80.5,240.2 80.8,240.5 81.0,240.5 81.2,240.2 81.4,240.0 81.6,240.1 81.8,240.2 82.0,240.2 82.3,240.1 82.5,240.0 82.7,240.1 82.9,240.2 83.1,240.1 83.3,240.2 83.6,240.3 83.8,240.1 84.0,240.1 84.2,240.3 84.4,240.4 84.6,240.4 84.9,240.2 85.1,240.0 85.3,240.0 85.5,240.0 85.7,240.1 85.9,240.1 86.2,240.1 86.4,240.1 86.6,240.2 86.8,240.0 87.0,240.0 87.2,240.1 87.4,240.2 87.7,240.0 87.9,239.9 88.1,240.1 88.3,240.2 88.5,240.1 88.7,240.2 89.0,240.3 89.2,240.2 89.4,240.0 89.6,240.1 89.8,240.0 90.0,240.0 90.3,240.2 90.5,240.2 90.7,240.3 90.9,240.1 91.1,239.9 91.3,239.9 91.5,239.8 91.8,239.8 92.0,239.8 92.2,240.0 92.4,240.2 92.6,240.0 92.8,239.8 93.1,239.7 93.3,239.4 93.5,238.7 93.7,237.9 93.9,236.7 94.1,234.5 94.4,231.4 94.6,227.6 94.8,223.0 95.0,218.0 95.2,213.4 95.4,209.6 95.6,207.0 95.9,206.2 96.1,207.6 96.3,211.1 96.5,215.7 96.7,220.8 96.9,225.5 97.2,229.7 97.4,233.1 97.6,235.7 97.8,237.5 98.0,238.5 98.2,239.2 98.5,239.5 98.7,239.6 98.9,239.5 99.1,239.4 99.3,239.6 99.5,239.9 99.7,239.9 100.0,239.9 100.2,240.0 100.4,240.0 100.6,240.3 100.8,240.5 101.0,240.3 101.3,240.0 101.5,240.0 101.7,240.2 101.9,240.3 102.1,240.1 102.3,240.2 102.6,240.1 102.8,240.0 103.0,240.1 103.2,240.2 103.4,240.1 103.6,240.1 103.8,240.2 104.1,240.1 104.3,239.9 104.5,239.9 104.7,240.2 104.9,240.3 105.1,240.2 105.4,240.2 105.6,240.2 105.8,240.1 106.0,240.1 106.2,240.3 106.4,240.5 106.7,240.7 106.9,240.4 107.1,240.1 107.3,240.3 107.5,240.5 107.7,240.4 107.9,240.2 108.2,240.3 108.4,240.4 108.6,240.2 108.8,240.1 109.0,240.2 109.2,240.2 109.5,240.0 109.7,240.1 109.9,240.3 110.1,240.4 110.3,240.3 110.5,240.2 110.8,240.2 111.0,240.1 111.2,240.0 111.4,240.0 111.6,240.1 111.8,240.4 112.0,240.5 112.3,240.3 112.5,240.1 112.7,240.2 112.9,240.2 113.1,240.3 113.3,240.4 113.6,240.3 113.8,240.1 114.0,240.2 114.2,240.4 114.4,240.5 114.6,240.3 114.9,240.1 115.1,240.2 115.3,240.2 115.5,240.0 115.7,239.9 115.9,240.0 116.1,240.0 116.4,240.0 116.6,240.1 116.8,240.2 117.0,240.2 117.2,240.1 117.4,240.0 117.7,240.1 117.9,240.4 118.1,240.3 118.3,240.1 118.5,240.2 118.7,240.2 119.0,240.1 119.2,240.2 119.4,240.3 119.6,240.3 119.8,240.1 120.0,240.0 120.2,240.2 120.5,240.2 120.7,240.2 120.9,240.2 121.1,240.4 121.3,240.5 121.5,240.4 121.8,240.5 122.0,240.4 122.2,240.3 122.4,240.3 122.6,240.3 122.8,240.4 123.1,240.4 123.3,240.4 123.5,240.5 123.7,240.5 123.9,240.3 124.1,240.3 124.3,240.4 124.6,240.4 124.8,240.2 125.0,240.2 125.2,240.2 125.4,240.2 125.6,240.3 125.9,240.4 126.1,240.3 126.3,240.1 126.5,240.0 126.7,240.0 126.9,240.2 127.2,240.2 127.4,240.2 127.6,240.2 127.8,240.1 128.0,240.2 128.2,240.3 128.4,240.3 128.7,240.2 128.9,239.8 129.1,239.8 129.3,240.1 129.5,240.4 129.7,240.6 130.0,240.4 130.2,240.3 130.4,240.4 130.6,240.3 130.8,240.4 131.0,240.4 131.3,240.3 131.5,240.4 131.7,240.1 131.9,240.1 132.1,240.5 132.3,240.5 132.5,240.3 132.8,240.3 133.0,240.4 133.2,240.4 133.4,240.3 133.6,240.2 133.8,240.1 134.1,240.0 134.3,239.9 134.5,239.9 134.7,240.0 134.9,239.9 135.1,239.9 135.4,240.1 135.6,240.3 135.8,240.2 136.0,240.0 136.2,240.0 136.4,240.0 136.6,240.1 136.9,240.0 137.1,239.9 137.3,240.1 137.5,240.2 137.7,240.2 137.9,240.2 138.2,240.2 138.4,240.1 138.6,240.0 138.8,239.9 139.0,240.1 139.2,240.2 139.5,240.1 139.7,240.1 139.9,240.3 140.1,240.3 140.3,240.1 140.5,240.0 140.7,240.1 141.0,240.2 141.2,240.1 141.4,239.9 141.6,239.7 141.8,239.8 142.0,239.9 142.3,239.9 142.5,240.0 142.7,240.0 142.9,239.8 143.1,239.7 143.3,239.8 143.6,239.7 143.8,239.4 144.0,239.2 144.2,239.2 144.4,239.1 144.6,238.7 144.8,238.3 145.1,237.5 145.3,236.0 145.5,233.7 145.7,230.3 145.9,225.3 146.1,218.7 146.4,210.3 146.6,200.5 146.8,190.6 147.0,181.4 147.2,174.5 147.4,171.1 147.7,172.0 147.9,177.2 148.1,185.5 148.3,195.4 148.5,205.6 148.7,214.6 148.9,222.0 149.2,228.0 149.4,232.8 149.6,235.8 149.8,237.2 150.0,237.9 150.2,238.6 150.5,239.0 150.7,239.2 150.9,239.5 151.1,239.5 151.3,239.4 151.5,239.5 151.8,239.7 152.0,239.8 152.2,239.8 152.4,239.8 152.6,239.6 152.8,239.5 153.0,240.0 153.3,240.4 153.5,240.2 153.7,239.9 153.9,239.8 154.1,239.9 154.3,240.2 154.6,240.2 154.8,240.0 155.0,240.1 155.2,240.1 155.4,240.0 155.6,240.0 155.9,239.9 156.1,239.9 156.3,240.1 156.5,240.2 156.7,240.2 156.9,240.1 157.1,240.0 157.4,240.0 157.6,240.2 157.8,240.4 158.0,240.4 158.2,240.2 158.4,240.2 158.7,240.2 158.9,240.1 159.1,240.1 159.3,240.3 159.5,240.4 159.7,240.2 160.0,240.2 160.2,240.3 160.4,240.1 160.6,239.9 160.8,240.0 161.0,240.0 161.2,239.8 161.5,240.0 161.7,240.3 161.9,240.3 162.1,240.3 162.3,240.4 162.5,240.5 162.8,240.4 163.0,240.3 163.2,240.3 163.4,240.2 163.6,240.2 163.8,240.3 164.1,240.4 164.3,240.1 164.5,240.0 164.7,240.1 164.9,240.1 165.1,240.2 165.3,240.2 165.6,240.1 165.8,240.2 166.0,240.2 166.2,240.2 166.4,240.3 166.6,240.5 166.9,240.4 167.1,240.2 167.3,240.2 167.5,240.3 167.7,240.3 167.9,240.3 168.2,240.5 168.4,240.5 168.6,240.4 168.8,240.4 169.0,240.4 169.2,240.3 169.4,240.3 169.7,240.2 169.9,240.0 170.1,239.9 170.3,240.0 170.5,240.2 170.7,240.4 171.0,240.5 171.2,240.6 171.4,240.6 171.6,240.5 171.8,240.1 172.0,239.9 172.3,240.1 172.5,240.3 172.7,240.3 172.9,240.3 173.1,240.2 173.3,240.2 173.5,240.0 173.8,239.8 174.0,239.8 174.2,239.9 174.4,240.1 174.6,240.2 174.8,240.0 175.1,240.0 175.3,240.2 175.5,240.4 175.7,240.5 175.9,240.3 176.1,240.2 176.4,240.3 176.6,240.5 176.8,240.5 177.0,240.3 177.2,240.1 177.4,240.1 177.6,240.3 177.9,240.3 178.1,240.1 178.3,240.2 178.5,240.3 178.7,240.3 178.9,240.5 179.2,240.5 179.4,240.3 179.6,240.1 179.8,240.0 180.0,240.2 180.2,240.5 180.5,240.4 180.7,240.3 180.9,240.3 181.1,240.6 181.3,240.6 181.5,240.3 181.7,240.2 182.0,240.4 182.2,240.4 182.4,240.4 182.6,240.6 182.8,240.4 183.0,240.0 183.3,240.1 183.5,240.3 183.7,240.3 183.9,240.3 184.1,240.3 184.3,240.3 184.6,240.3 184.8,240.3 185.0,240.2 185.2,240.3 185.4,240.2 185.6,239.9 185.8,239.6 186.1,239.2 186.3,238.9 186.5,238.9 186.7,238.9 186.9,239.0 187.1,239.1 187.4,239.3 187.6,239.5 187.8,239.8 188.0,240.1 188.2,240.2 188.4,240.2 188.7,240.3 188.9,240.2 189.1,240.1 189.3,240.3 189.5,240.5 189.7,240.5 189.9,240.6 190.2,240.5 190.4,240.5 190.6,240.4 190.8,240.2 191.0,240.0 191.2,240.1 191.5,240.2 191.7,240.3 191.9,240.4 192.1,240.5 192.3,240.6 192.5,240.3 192.8,240.0 193.0,240.1 193.2,240.2 193.4,240.1 193.6,240.3 193.8,240.5 194.1,240.6 194.3,240.5 194.5,240.2 194.7,240.0 194.9,240.2 195.1,240.5 195.3,240.5 195.6,240.5 195.8,240.5 196.0,240.3 196.2,240.2 196.4,240.1 196.6,240.3 196.9,240.5 197.1,240.5 197.3,240.1 197.5,240.1 197.7,240.4 197.9,240.4 198.2,240.2 198.4,240.2 198.6,240.3 198.8,240.3 199.0,240.3 199.2,240.3 199.4,240.4 199.7,240.8 199.9,240.9 200.1,240.7 200.3,240.5 200.5,240.3 200.7,240.1 201.0,240.2 201.2,240.3 201.4,240.2 201.6,240.2 201.8,240.2 202.0,240.2 202.3,240.1 202.5,240.1 202.7,240.1 202.9,240.2 203.1,240.3 203.3,240.4 203.5,240.5 203.8,240.4 204.0,240.4 204.2,240.4 204.4,240.4 204.6,240.4 204.8,240.1 205.1,239.9 205.3,240.0 205.5,240.0 205.7,239.9 205.9,239.9 206.1,240.2 206.4,240.4 206.6,240.2 206.8,240.3 207.0,240.5 207.2,240.6 207.4,240.6 207.6,240.5 207.9,240.3 208.1,240.1 208.3,240.2 208.5,240.6 208.7,240.6 208.9,240.6 209.2,240.6 209.4,240.4 209.6,240.3 209.8,240.4 210.0,240.4 210.2,240.1 210.5,239.9 210.7,239.9 210.9,240.1 211.1,240.2 211.3,240.3 211.5,240.3 211.7,240.3 212.0,240.3 212.2,240.4 212.4,240.5 212.6,240.3 212.8,240.3 213.0,240.4 213.3,240.4 213.5,240.2 213.7,240.2 213.9,240.3 214.1,240.3 214.3,240.1 214.6,240.0 214.8,240.1 215.0,240.5 215.2,240.6 215.4,240.2 215.6,240.0 215.8,240.0 216.1,240.0 216.3,240.2 216.5,240.3 216.7,240.1 216.9,240.0 217.1,240.0 217.4,240.1 217.6,240.1 217.8,239.9 218.0,239.7 218.2,239.6 218.4,239.4 218.7,238.7 218.9,237.7 219.1,236.6 219.3,235.1 219.5,233.0 219.7,230.3 219.9,227.4 220.2,225.1 220.4,223.0 220.6,221.4 220.8,221.3 221.0,222.4 221.2,224.2 221.5,226.4 221.7,228.7 221.9,230.5 222.1,231.7 222.3,232.2 222.5,232.3 222.8,231.9 223.0,231.4 223.2,231.1 223.4,231.1 223.6,231.3 223.8,232.1 224.0,233.3 224.3,234.6 224.5,235.7 224.7,237.0 224.9,238.1 225.1,238.7 225.3,239.1 225.6,239.6 225.8,239.6 226.0,239.5 226.2,239.7 226.4,240.0 226.6,240.1 226.9,240.2 227.1,240.5 227.3,240.7 227.5,240.5 227.7,240.2 227.9,240.0 228.1,240.1 228.4,240.4 228.6,240.4 228.8,240.3 229.0,240.3 229.2,240.3 229.4,240.2 229.7,240.2 229.9,240.2 230.1,240.1 230.3,239.9 230.5,240.0 230.7,240.1 231.0,240.0 231.2,239.9 231.4,240.1 231.6,240.2 231.8,240.2 232.0,240.2 232.2,240.1 232.5,240.1 232.7,240.2 232.9,240.3 233.1,240.3 233.3,240.1 233.5,240.1 233.8,240.3 234.0,240.3 234.2,240.4 234.4,240.5 234.6,240.4 234.8,240.1 235.1,240.2 235.3,240.3 235.5,240.2 235.7,240.0 235.9,239.9 236.1,240.1 236.3,240.2 236.6,240.2 236.8,240.0 237.0,240.0 237.2,240.2 237.4,240.1 237.6,240.1 237.9,240.1 238.1,240.2 238.3,240.3 238.5,240.3 238.7,240.2 238.9,240.3 239.2,240.2 239.4,240.0 239.6,240.2 239.8,240.4 240.0,240.3 240.2,240.1 240.4,240.0 240.7,240.1 240.9,240.2 241.1,240.4 241.3,240.4 241.5,240.3 241.7,240.2 242.0,240.3 242.2,240.3 242.4,240.0 242.6,240.1 242.8,240.2 243.0,240.0 243.3,240.0 243.5,240.3 243.7,240.7 243.9,240.5 244.1,240.3 244.3,240.4 244.5,240.6 244.8,240.5 245.0,240.2 245.2,240.1 245.4,240.3 245.6,240.3 245.8,240.3 246.1,240.4 246.3,240.3 246.5,240.1 246.7,240.0 246.9,240.0 247.1,240.1 247.4,240.2 247.6,240.2 247.8,240.3 248.0,240.3 248.2,240.1 248.4,240.0 248.6,240.0 248.9,240.0 249.1,239.9 249.3,239.7 249.5,239.4 249.7,239.0 249.9,238.4 250.2,237.7 250.4,236.6 250.6,234.9 250.8,233.0 251.0,230.9 251.2,229.2 251.5,228.0 251.7,227.2 251.9,227.1 252.1,227.8 252.3,229.2 252.5,230.6 252.7,231.9 253.0,232.8 253.2,233.2 253.4,233.2 253.6,233.1 253.8,233.1 254.0,233.1 254.3,233.3 254.5,233.6 254.7,234.1 254.9,235.1 255.1,236.5 255.3,237.6 255.6,238.1 255.8,238.8 256.0,239.4 256.2,239.5 256.4,239.6 256.6,239.7 256.8,239.8 257.1,239.9 257.3,240.1 257.5,240.3 257.7,240.3 257.9,240.2 258.1,240.2 258.4,240.4 258.6,240.4 258.8,240.1 259.0,239.9 259.2,239.8 259.4,240.1 259.7,240.4 259.9,240.5 260.1,240.3 260.3,240.4 260.5,240.5 260.7,240.4 260.9,240.3 261.2,240.3 261.4,240.2 261.6,240.1 261.8,240.1 262.0,240.0 262.2,240.0 262.5,240.1 262.7,240.2 262.9,240.2 263.1,240.1 263.3,240.3 263.5,240.3 263.8,240.3 264.0,240.3 264.2,240.2 264.4,240.1 264.6,240.2 264.8,240.2 265.0,240.1 265.3,240.2 265.5,240.5 265.7,240.5 265.9,240.1 266.1,240.2 266.3,240.6 266.6,240.6 266.8,240.4 267.0,240.4 267.2,240.2 267.4,240.2 267.6,240.3 267.9,240.3 268.1,240.1 268.3,240.0 268.5,240.1 268.7,240.0 268.9,240.0 269.1,240.1 269.4,240.3 269.6,240.5 269.8,240.4 270.0,240.1 270.2,240.0 270.4,239.9 270.7,240.0 270.9,240.1 271.1,240.3 271.3,240.4 271.5,240.2 271.7,240.1 272.0,240.3 272.2,240.5 272.4,240.5 272.6,240.4 272.8,240.4 273.0,240.4 273.2,240.3 273.5,240.2 273.7,240.1 273.9,240.1 274.1,240.4 274.3,240.5 274.5,240.1 274.8,239.8 275.0,239.8 275.2,240.0 275.4,240.0 275.6,240.2 275.8,240.3 276.1,240.2 276.3,240.1 276.5,240.0 276.7,239.9 276.9,240.1 277.1,240.1 277.3,239.8 277.6,239.9 277.8,240.0 278.0,239.8 278.2,239.3 278.4,238.5 278.6,237.8 278.9,237.0 279.1,235.8 279.3,234.2 279.5,232.4 279.7,230.4 279.9,228.1 280.2,225.7 280.4,223.7 280.6,222.3 280.8,221.4 281.0,221.3 281.2,222.2 281.4,223.4 281.7,224.5 281.9,225.7 282.1,226.8 282.3,227.7 282.5,228.4 282.7,229.0 283.0,229.6 283.2,230.6 283.4,231.9 283.6,233.3 283.8,234.6 284.0,235.8 284.3,236.9 284.5,237.9 284.7,238.7 284.9,239.2 285.1,239.6 285.3,240.0 285.5,240.2 285.8,240.2 286.0,240.1 286.2,240.0 286.4,239.9 286.6,239.8 286.8,239.7 287.1,239.8 287.3,239.9 287.5,239.8 287.7,239.9 287.9,240.1 288.1,240.1 288.4,240.0 288.6,240.0 288.8,240.0 289.0,240.0 289.2,240.1 289.4,240.2 289.6,240.2 289.9,240.2 290.1,240.3 290.3,240.4 290.5,240.2 290.7,240.0 290.9,240.1 291.2,240.1 291.4,240.2 291.6,240.4 291.8,240.4 292.0,240.4 292.2,240.2 292.5,240.2 292.7,240.2 292.9,240.3 293.1,240.4 293.3,240.5 293.5,240.2 293.7,240.1 294.0,240.4 294.2,240.6 294.4,240.3 294.6,240.3 294.8,240.5 295.0,240.5 295.3,240.4 295.5,240.2 295.7,240.3 295.9,240.3 296.1,240.0 296.3,240.1 296.6,240.3 296.8,240.2 297.0,240.0 297.2,239.8 297.4,240.0 297.6,240.3 297.8,240.4 298.1,240.4 298.3,240.3 298.5,240.2 298.7,240.2 298.9,240.1 299.1,240.2 299.4,240.2 299.6,240.3 299.8,240.5 300.0,240.5 300.2,240.2 300.4,240.2 300.7,240.2 300.9,240.3 301.1,240.3 301.3,240.4 301.5,240.6 301.7,240.5 302.0,240.3 302.2,240.4 302.4,240.3 302.6,240.1 302.8,240.1 303.0,240.3 303.2,240.4 303.5,240.4 303.7,240.4 303.9,240.3 304.1,240.2 304.3,240.2 304.5,240.1 304.8,240.0 305.0,239.9 305.2,240.1 305.4,240.3 305.6,240.3 305.8,240.5 306.1,240.5 306.3,240.3 306.5,240.3 306.7,240.3 306.9,240.2 307.1,240.4 307.3,240.4 307.6,240.2 307.8,240.0 308.0,240.2 308.2,240.5 308.4,240.5 308.6,240.2 308.9,240.0 309.1,240.0 309.3,240.0 309.5,240.1 309.7,240.2 309.9,240.2 310.2,240.2 310.4,240.4 310.6,240.3 310.8,240.3 311.0,240.3 311.2,240.2 311.4,240.0 311.7,240.1 311.9,240.3 312.1,240.2 312.3,240.0 312.5,240.1 312.7,240.3 313.0,240.2 313.2,240.1 313.4,240.2 313.6,240.0 313.8,239.9 314.0,240.1 314.3,240.4 314.5,240.5 314.7,240.3 314.9,240.1 315.1,240.3 315.3,240.5 315.5,240.5 315.8,240.3 316.0,240.2 316.2,240.3 316.4,240.3 316.6,240.3 316.8,240.2 317.1,240.1 317.3,240.2 317.5,240.3 317.7,240.3 317.9,240.3 318.1,240.4 318.4,240.3 318.6,240.1 318.8,240.1 319.0,240.2 319.2,240.3 319.4,240.3 319.6,240.4 319.9,240.3 320.1,240.2 320.3,240.3 320.5,240.4 320.7,240.5 320.9,240.5 321.2,240.3 321.4,240.3 321.6,240.4 321.8,240.4 322.0,240.3 322.2,240.1 322.5,240.2 322.7,240.3 322.9,240.3 323.1,240.3 323.3,240.4 323.5,240.3 323.7,240.3 324.0,240.4 324.2,240.4 324.4,240.3 324.6,240.2 324.8,240.3 325.0,240.4 325.3,240.4 325.5,240.1 325.7,240.0 325.9,240.1 326.1,240.0 326.3,240.2 326.6,240.3 326.8,240.3 327.0,240.3 327.2,240.2 327.4,240.1 327.6,240.2 327.8,240.1 328.1,239.8 328.3,240.0 328.5,240.1 328.7,240.0 328.9,240.1 329.1,240.1 329.4,240.1 329.6,240.1 329.8,239.9 330.0,239.7 330.2,239.5 330.4,239.0 330.7,238.6 330.9,238.2 331.1,237.6 331.3,237.1 331.5,236.7 331.7,236.3 331.9,235.7 332.2,235.2 332.4,234.7 332.6,234.1 332.8,233.4 333.0,232.5 333.2,231.5 333.5,230.2 333.7,228.8 333.9,227.9 334.1,227.4 334.3,227.3 334.5,227.8 334.8,228.7 335.0,230.1 335.2,231.8 335.4,233.5 335.6,234.9 335.8,236.0 336.0,237.0 336.3,237.9 336.5,238.7 336.7,239.3 336.9,239.5 337.1,239.7 337.3,240.0 337.6,239.9 337.8,239.8 338.0,239.9 338.2,240.2 338.4,240.3 338.6,240.2 338.9,240.4 339.1,240.5 339.3,240.5 339.5,240.5 339.7,240.5 339.9,240.3 340.1,240.1 340.4,240.1 340.6,240.1 340.8,240.1 341.0,240.0 341.2,240.0 341.4,240.2 341.7,240.4 341.9,240.4 342.1,240.4 342.3,240.3 342.5,240.3 342.7,240.4 343.0,240.2 343.2,240.0 343.4,240.1 343.6,240.2 343.8,240.4 344.0,240.5 344.2,240.4 344.5,240.2 344.7,240.1 344.9,240.1 345.1,240.3 345.3,240.4 345.5,240.3 345.8,240.4 346.0,240.7 346.2,240.7 346.4,240.5 346.6,240.3 346.8,240.1 347.1,240.2 347.3,240.4 347.5,240.3 347.7,240.1 347.9,240.2 348.1,240.2 348.3,240.0 348.6,240.0 348.8,240.1 349.0,240.2 349.2,240.2 349.4,240.1 349.6,240.1 349.9,240.1 350.1,240.0 350.3,240.1 350.5,240.2 350.7,240.3 350.9,240.3 351.2,240.2 351.4,240.2 351.6,240.1 351.8,240.3 352.0,240.3 352.2,240.2 352.4,240.2 352.7,240.3 352.9,240.1 353.1,240.2 353.3,240.6 353.5,240.4 353.7,240.1 354.0,240.0 354.2,240.1 354.4,240.0 354.6,240.1 354.8,240.2 355.0,240.0 355.3,239.9 355.5,239.7 355.7,239.5 355.9,239.4 356.1,239.2 356.3,239.0 356.5,238.7 356.8,238.1 357.0,237.6 357.2,237.2 357.4,236.8 357.6,236.3 357.8,235.7 358.1,235.3 358.3,234.9 358.5,234.5 358.7,234.2 358.9,234.2 359.1,234.4 359.4,234.7 359.6,235.1 359.8,235.9 360.0,236.4 360.2,236.6 360.4,237.0 360.6,237.7 360.9,238.3 361.1,238.9 361.3,239.3 361.5,239.5 361.7,239.7 361.9,239.7 362.2,239.9 362.4,239.8 362.6,239.6 362.8,239.7 363.0,240.0 363.2,240.1 363.5,240.3 363.7,240.3 363.9,240.1 364.1,240.0 364.3,240.2 364.5,240.2 364.7,240.3 365.0,240.4 365.2,240.2 365.4,240.0 365.6,240.1 365.8,240.1 366.0,240.1 366.3,240.2 366.5,240.0 366.7,239.8 366.9,239.8 367.1,240.0 367.3,240.3 367.6,240.4 367.8,240.5 368.0,240.5 368.2,240.4 368.4,240.1 368.6,240.0 368.8,240.2 369.1,240.3 369.3,240.4 369.5,240.5 369.7,240.5 369.9,240.6 370.1,240.4 370.4,240.3 370.6,240.4 370.8,240.4 371.0,240.4 371.2,240.4 371.4,240.3 371.7,240.4 371.9,240.4 372.1,240.3 372.3,240.1 372.5,240.0 372.7,240.0 372.9,240.2 373.2,240.5 373.4,240.6 373.6,240.3 373.8,240.0 374.0,240.1 374.2,240.6 374.5,240.6 374.7,240.4 374.9,240.4 375.1,240.3 375.3,240.3 375.5,240.3 375.8,240.4 376.0,240.5 376.2,240.6 376.4,240.4 376.6,240.3 376.8,240.4 377.0,240.3 377.3,240.1 377.5,240.1 377.7,240.1 377.9,240.2 378.1,240.1 378.3,239.8 378.6,239.7 378.8,239.7 379.0,239.7 379.2,239.7 379.4,239.4 379.6,239.0 379.9,238.6 380.1,238.2 380.3,237.6 380.5,236.9 380.7,236.4 380.9,236.2 381.1,235.8 381.4,235.6 381.6,235.7 381.8,235.9 382.0,236.3 382.2,237.0 382.4,237.6 382.7,238.1 382.9,238.4 383.1,238.6 383.3,239.0 383.5,239.3 383.7,239.7 384.0,239.8 384.2,239.5 384.4,239.2 384.6,238.8 384.8,238.4 385.0,238.2 385.2,238.2 385.5,238.0 385.7,237.6 385.9,237.6 386.1,237.8 386.3,238.1 386.5,238.5 386.8,238.7 387.0,238.8 387.2,239.1 387.4,239.4 387.6,239.6 387.8,239.8 388.1,239.9 388.3,239.8 388.5,240.0 388.7,240.1 388.9,240.2 389.1,240.5 389.3,240.7 389.6,240.6 389.8,240.1 390.0,240.0 390.2,240.2 390.4,240.2 390.6,240.2 390.9,240.2 391.1,240.2 391.3,240.3 391.5,240.6 391.7,240.6 391.9,240.2 392.2,240.0 392.4,240.1 392.6,240.3 392.8,240.3 393.0,240.2 393.2,240.1 393.4,239.8 393.7,239.7 393.9,240.0 394.1,240.2 394.3,240.1 394.5,240.0 394.7,240.1 395.0,240.1 395.2,240.2 395.4,240.4 395.6,240.2 395.8,240.1 396.0,240.3 396.3,240.3 396.5,240.3 396.7,240.4 396.9,240.5 397.1,240.6 397.3,240.6 397.5,240.6 397.8,240.5 398.0,240.4 398.2,240.4 398.4,240.5 398.6,240.5 398.8,240.3 399.1,240.3 399.3,240.5 399.5,240.4 399.7,240.4 399.9,240.4 400.1,240.5 400.4,240.3 400.6,240.3 400.8,240.3 401.0,240.3 401.2,240.2 401.4,240.2 401.6,240.1 401.9,240.3 402.1,240.4 402.3,240.3 402.5,240.3 402.7,240.3 402.9,240.1 403.2,239.9 403.4,240.1 403.6,240.2 403.8,240.2 404.0,240.1 404.2,240.3 404.5,240.5 404.7,240.5 404.9,240.3 405.1,240.3 405.3,240.5 405.5,240.5 405.7,240.3" fill="none" stroke="#ff0000" stroke-width="1.05" stroke-linejoin="round"/>
<polyline points="28.1,343.4 28.3,343.3 28.5,343.1 28.7,343.2 29.0,343.5 29.2,343.5 29.4,343.4 29.6,343.5 29.8,343.5 30.0,343.4 30.3,343.2 30.5,343.1 30.7,343.1 30.9,343.4 31.1,343.4 31.3,343.3 31.6,343.4 31.8,343.3 32.0,343.4 32.2,343.5 32.4,343.5 32.6,343.5 32.8,343.3 33.1,343.2 33.3,343.3 33.5,343.5 33.7,343.5 33.9,343.4 34.1,343.4 34.4,343.6 34.6,343.5 34.8,343.4 35.0,343.5 35.2,343.3 35.4,343.2 35.7,343.1 35.9,343.2 36.1,343.5 36.3,343.5 36.5,343.4 36.7,343.2 36.9,343.2 37.2,343.4 37.4,343.5 37.6,343.5 37.8,343.5 38.0,343.4 38.2,343.2 38.5,343.1 38.7,343.3 38.9,343.4 39.1,343.4 39.3,343.5 39.5,343.5 39.8,343.3 40.0,343.3 40.2,343.4 40.4,343.3 40.6,343.3 40.8,343.3 41.0,343.2 41.3,343.1 41.5,343.1 41.7,343.2 41.9,343.3 42.1,343.4 42.3,343.4 42.6,343.3 42.8,343.4 43.0,343.4 43.2,343.1 43.4,343.3 43.6,343.4 43.9,343.2 44.1,343.2 44.3,343.3 44.5,343.4 44.7,343.5 44.9,343.7 45.1,343.8 45.4,343.6 45.6,343.4 45.8,343.1 46.0,343.0 46.2,343.2 46.4,343.3 46.7,343.4 46.9,343.5 47.1,343.7 47.3,343.7 47.5,343.6 47.7,343.6 48.0,343.5 48.2,343.3 48.4,343.2 48.6,343.2 48.8,343.2 49.0,343.1 49.2,343.2 49.5,343.3 49.7,343.4 49.9,343.3 50.1,343.1 50.3,343.1 50.5,343.2 50.8,343.2 51.0,343.3 51.2,343.4 51.4,343.4 51.6,343.2 51.8,343.2 52.1,343.3 52.3,343.2 52.5,343.3 52.7,343.3 52.9,343.2 53.1,343.3 53.3,343.4 53.6,343.5 53.8,343.4 54.0,343.2 54.2,343.2 54.4,343.2 54.6,342.9 54.9,342.9 55.1,343.1 55.3,343.2 55.5,343.0 55.7,343.0 55.9,343.2 56.2,343.2 56.4,343.1 56.6,343.2 56.8,343.2 57.0,343.3 57.2,343.5 57.4,343.7 57.7,343.8 57.9,343.5 58.1,343.2 58.3,343.3 58.5,343.2 58.7,343.1 59.0,343.3 59.2,343.3 59.4,343.4 59.6,343.5 59.8,343.4 60.0,343.3 60.3,343.2 60.5,343.2 60.7,343.3 60.9,343.3 61.1,343.4 61.3,343.4 61.5,343.3 61.8,343.3 62.0,343.3 62.2,343.3 62.4,343.4 62.6,343.5 62.8,343.3 63.1,343.2 63.3,343.1 63.5,343.0 63.7,343.4 63.9,343.8 64.1,343.5 64.4,343.1 64.6,343.2 64.8,343.4 65.0,343.4 65.2,343.1 65.4,343.0 65.6,343.1 65.9,343.1 66.1,343.0 66.3,343.2 66.5,343.4 66.7,343.3 66.9,343.2 67.2,343.3 67.4,343.2 67.6,343.5 67.8,343.6 68.0,343.2 68.2,343.1 68.5,343.3 68.7,343.4 68.9,343.4 69.1,343.5 69.3,343.4 69.5,343.3 69.7,343.4 70.0,343.5 70.2,343.4 70.4,343.1 70.6,343.0 70.8,343.1 71.0,343.3 71.3,343.4 71.5,343.1 71.7,343.1 71.9,343.3 72.1,343.4 72.3,343.5 72.6,343.5 72.8,343.4 73.0,343.6 73.2,343.6 73.4,343.3 73.6,343.2 73.8,343.2 74.1,343.2 74.3,343.2 74.5,343.1 74.7,343.1 74.9,343.2 75.1,343.2 75.4,343.1 75.6,342.8 75.8,342.8 76.0,343.1 76.2,343.3 76.4,343.5 76.7,343.5 76.9,343.3 77.1,343.3 77.3,343.3 77.5,343.2 77.7,343.3 77.9,343.5 78.2,343.4 78.4,343.1 78.6,343.1 78.8,343.2 79.0,343.2 79.2,343.3 79.5,343.5 79.7,343.5 79.9,343.3 80.1,343.1 80.3,343.0 80.5,343.1 80.8,343.2 81.0,343.1 81.2,343.1 81.4,343.2 81.6,343.2 81.8,343.2 82.0,343.0 82.3,342.9 82.5,342.9 82.7,343.0 82.9,343.1 83.1,343.1 83.3,343.1 83.6,343.0 83.8,342.9 84.0,343.0 84.2,343.1 84.4,343.1 84.6,343.1 84.9,343.2 85.1,343.2 85.3,343.1 85.5,342.8 85.7,342.8 85.9,343.0 86.2,343.2 86.4,343.3 86.6,343.1 86.8,343.0 87.0,343.0 87.2,343.0 87.4,342.8 87.7,342.7 87.9,342.9 88.1,342.9 88.3,342.9 88.5,342.8 88.7,342.6 89.0,342.5 89.2,342.7 89.4,342.6 89.6,342.5 89.8,342.6 90.0,342.6 90.3,342.6 90.5,342.4 90.7,342.1 90.9,341.8 91.1,341.5 91.3,341.3 91.5,341.4 91.8,341.4 92.0,341.2 92.2,341.0 92.4,340.6 92.6,339.8 92.8,339.1 93.1,338.1 93.3,336.3 93.5,333.6 93.7,330.2 93.9,325.6 94.1,319.7 94.4,312.9 94.6,305.9 94.8,300.1 95.0,297.9 95.2,300.2 95.4,305.8 95.6,313.0 95.9,319.9 96.1,325.9 96.3,330.6 96.5,333.9 96.7,336.3 96.9,338.1 97.2,339.0 97.4,339.7 97.6,340.4 97.8,340.8 98.0,341.1 98.2,341.4 98.5,341.6 98.7,341.8 98.9,341.9 99.1,342.1 99.3,342.2 99.5,342.2 99.7,342.3 100.0,342.6 100.2,342.7 100.4,342.7 100.6,342.7 100.8,342.6 101.0,342.7 101.3,342.9 101.5,342.9 101.7,342.7 101.9,342.7 102.1,342.7 102.3,342.6 102.6,342.8 102.8,342.9 103.0,342.8 103.2,342.7 103.4,342.8 103.6,343.0 103.8,343.1 104.1,343.1 104.3,343.0 104.5,342.9 104.7,343.1 104.9,343.3 105.1,343.3 105.4,343.1 105.6,343.1 105.8,343.1 106.0,343.1 106.2,343.2 106.4,343.3 106.7,343.4 106.9,343.2 107.1,342.9 107.3,343.1 107.5,343.2 107.7,343.3 107.9,343.6 108.2,343.4 108.4,343.3 108.6,343.3 108.8,343.4 109.0,343.5 109.2,343.3 109.5,343.3 109.7,343.6 109.9,343.6 110.1,343.4 110.3,343.3 110.5,343.3 110.8,343.2 111.0,343.3 111.2,343.4 111.4,343.5 111.6,343.6 111.8,343.8 112.0,343.7 112.3,343.3 112.5,343.1 112.7,343.1 112.9,343.4 113.1,343.4 113.3,343.3 113.6,343.3 113.8,343.2 114.0,343.3 114.2,343.5 114.4,343.7 114.6,343.5 114.9,343.1 115.1,343.0 115.3,343.1 115.5,343.3 115.7,343.4 115.9,343.4 116.1,343.3 116.4,343.2 116.6,343.1 116.8,343.1 117.0,343.2 117.2,343.3 117.4,343.4 117.7,343.3 117.9,343.3 118.1,343.3 118.3,343.2 118.5,343.0 118.7,343.2 119.0,343.4 119.2,343.5 119.4,343.4 119.6,343.4 119.8,343.4 120.0,343.3 120.2,343.2 120.5,343.3 120.7,343.1 120.9,343.1 121.1,343.3 121.3,343.0 121.5,342.9 121.8,343.2 122.0,343.3 122.2,343.4 122.4,343.3 122.6,343.3 122.8,343.3 123.1,343.4 123.3,343.5 123.5,343.4 123.7,343.4 123.9,343.4 124.1,343.4 124.3,343.5 124.6,343.3 124.8,343.4 125.0,343.5 125.2,343.5 125.4,343.4 125.6,343.6 125.9,343.6 126.1,343.5 126.3,343.4 126.5,343.4 126.7,343.3 126.9,343.3 127.2,343.3 127.4,343.1 127.6,343.1 127.8,343.3 128.0,343.0 128.2,342.9 128.4,343.1 128.7,343.2 128.9,343.2 129.1,343.2 129.3,343.3 129.5,343.2 129.7,343.1 130.0,343.0 130.2,343.0 130.4,342.9 130.6,342.9 130.8,343.0 131.0,343.1 131.3,342.8 131.5,343.0 131.7,343.4 131.9,343.5 132.1,343.2 132.3,342.9 132.5,342.9 132.8,343.0 133.0,343.0 133.2,343.1 133.4,343.2 133.6,343.1 133.8,343.1 134.1,343.1 134.3,343.1 134.5,343.3 134.7,343.3 134.9,343.1 135.1,343.0 135.4,342.9 135.6,342.9 135.8,343.0 136.0,343.2 136.2,343.1 136.4,343.0 136.6,342.9 136.9,342.7 137.1,342.6 137.3,342.6 137.5,342.7 137.7,342.7 137.9,342.7 138.2,342.7 138.4,342.8 138.6,342.8 138.8,342.7 139.0,342.6 139.2,342.4 139.5,342.1 139.7,341.9 139.9,342.1 140.1,342.2 140.3,342.2 140.5,342.2 140.7,342.2 141.0,342.1 141.2,342.0 141.4,341.9 141.6,341.6 141.8,341.6 142.0,341.5 142.3,341.2 142.5,341.2 142.7,341.1 142.9,340.7 143.1,340.2 143.3,339.7 143.6,339.4 143.8,339.0 144.0,338.3 144.2,337.4 144.4,336.3 144.6,334.8 144.8,332.5 145.1,329.0 145.3,323.9 145.5,316.9 145.7,307.5 145.9,295.3 146.1,281.1 146.4,266.5 146.6,254.8 146.8,250.4 147.0,254.9 147.2,266.5 147.4,281.1 147.7,295.3 147.9,307.3 148.1,316.9 148.3,324.0 148.5,328.8 148.7,332.3 148.9,335.0 149.2,336.3 149.4,337.0 149.6,337.8 149.8,338.8 150.0,339.6 150.2,339.9 150.5,340.1 150.7,340.4 150.9,340.9 151.1,341.1 151.3,341.2 151.5,341.4 151.8,341.5 152.0,341.5 152.2,341.6 152.4,341.8 152.6,342.1 152.8,342.3 153.0,342.1 153.3,342.1 153.5,342.5 153.7,342.8 153.9,342.7 154.1,342.4 154.3,342.2 154.6,342.3 154.8,342.4 155.0,342.4 155.2,342.5 155.4,342.9 155.6,343.0 155.9,343.0 156.1,343.0 156.3,342.9 156.5,342.9 156.7,343.0 156.9,343.0 157.1,342.9 157.4,342.7 157.6,342.7 157.8,342.5 158.0,342.7 158.2,343.0 158.4,342.9 158.7,343.0 158.9,343.2 159.1,343.1 159.3,343.0 159.5,343.1 159.7,343.2 160.0,343.1 160.2,343.0 160.4,343.1 160.6,343.2 160.8,343.2 161.0,343.2 161.2,343.3 161.5,343.4 161.7,343.1 161.9,343.0 162.1,343.0 162.3,343.1 162.5,343.1 162.8,343.0 163.0,343.1 163.2,343.2 163.4,343.0 163.6,343.0 163.8,343.2 164.1,343.4 164.3,343.4 164.5,343.5 164.7,343.4 164.9,343.2 165.1,343.0 165.3,343.2 165.6,343.3 165.8,343.4 166.0,343.4 166.2,343.3 166.4,343.3 166.6,343.4 166.9,343.4 167.1,343.5 167.3,343.3 167.5,343.3 167.7,343.4 167.9,343.4 168.2,343.2 168.4,343.1 168.6,343.1 168.8,343.3 169.0,343.5 169.2,343.5 169.4,343.2 169.7,343.0 169.9,343.0 170.1,343.0 170.3,343.2 170.5,343.2 170.7,343.1 171.0,343.2 171.2,343.2 171.4,343.2 171.6,343.1 171.8,343.1 172.0,343.3 172.3,343.5 172.5,343.7 172.7,343.6 172.9,343.4 173.1,343.4 173.3,343.3 173.5,343.3 173.8,343.5 174.0,343.6 174.2,343.4 174.4,343.3 174.6,343.5 174.8,343.3 175.1,343.0 175.3,342.9 175.5,343.0 175.7,343.1 175.9,343.2 176.1,343.3 176.4,343.3 176.6,343.3 176.8,343.4 177.0,343.3 177.2,343.2 177.4,343.2 177.6,343.2 177.9,343.1 178.1,343.3 178.3,343.3 178.5,343.2 178.7,343.4 178.9,343.4 179.2,343.5 179.4,343.7 179.6,343.6 179.8,343.5 180.0,343.4 180.2,343.2 180.5,343.1 180.7,342.9 180.9,342.9 181.1,343.0 181.3,343.1 181.5,343.2 181.7,343.4 182.0,343.3 182.2,343.0 182.4,343.2 182.6,343.5 182.8,343.4 183.0,343.1 183.3,343.0 183.5,343.2 183.7,343.5 183.9,343.6 184.1,343.4 184.3,343.3 184.6,343.2 184.8,342.9 185.0,342.7 185.2,342.4 185.4,341.9 185.6,341.5 185.8,341.3 186.1,341.1 186.3,340.9 186.5,341.1 186.7,341.5 186.9,342.1 187.1,342.6 187.4,342.8 187.6,343.1 187.8,343.2 188.0,343.1 188.2,343.2 188.4,343.2 188.7,343.0 188.9,343.1 189.1,343.5 189.3,343.5 189.5,343.3 189.7,343.6 189.9,343.8 190.2,343.5 190.4,343.2 190.6,343.1 190.8,343.2 191.0,343.3 191.2,343.3 191.5,343.3 191.7,343.3 191.9,343.3 192.1,343.3 192.3,343.3 192.5,343.2 192.8,343.0 193.0,343.3 193.2,343.6 193.4,343.5 193.6,343.4 193.8,343.4 194.1,343.4 194.3,343.4 194.5,343.2 194.7,343.2 194.9,343.2 195.1,343.1 195.3,343.1 195.6,343.3 195.8,343.4 196.0,343.2 196.2,343.0 196.4,343.1 196.6,343.3 196.9,343.1 197.1,342.9 197.3,343.1 197.5,343.4 197.7,343.6 197.9,343.6 198.2,343.4 198.4,343.3 198.6,343.2 198.8,343.5 199.0,343.6 199.2,343.6 199.4,343.4 199.7,343.3 199.9,343.3 200.1,343.2 200.3,343.2 200.5,343.3 200.7,343.2 201.0,343.3 201.2,343.5 201.4,343.5 201.6,343.3 201.8,343.3 202.0,343.4 202.3,343.3 202.5,343.3 202.7,343.4 202.9,343.4 203.1,343.3 203.3,343.2 203.5,343.2 203.8,343.2 204.0,343.0 204.2,343.0 204.4,343.4 204.6,343.6 204.8,343.4 205.1,343.3 205.3,343.1 205.5,343.0 205.7,342.9 205.9,343.1 206.1,343.2 206.4,343.3 206.6,343.2 206.8,343.1 207.0,343.2 207.2,343.3 207.4,343.3 207.6,343.2 207.9,343.1 208.1,343.3 208.3,343.4 208.5,343.3 208.7,343.3 208.9,343.3 209.2,343.2 209.4,343.3 209.6,343.4 209.8,343.0 210.0,342.8 210.2,342.7 210.5,342.7 210.7,343.1 210.9,343.3 211.1,343.1 211.3,343.0 211.5,343.1 211.7,343.1 212.0,343.0 212.2,343.1 212.4,343.0 212.6,342.9 212.8,342.9 213.0,342.9 213.3,343.1 213.5,343.2 213.7,343.2 213.9,343.0 214.1,343.0 214.3,342.9 214.6,342.8 214.8,342.7 215.0,342.7 215.2,342.8 215.4,342.7 215.6,342.7 215.8,342.5 216.1,342.4 216.3,342.5 216.5,342.4 216.7,342.4 216.9,342.1 217.1,341.7 217.4,341.4 217.6,341.1 217.8,340.8 218.0,340.4 218.2,339.5 218.4,338.2 218.7,336.5 218.9,334.1 219.1,330.7 219.3,326.6 219.5,322.1 219.7,317.6 219.9,314.0 220.2,312.6 220.4,314.2 220.6,317.7 220.8,322.3 221.0,326.9 221.2,330.6 221.5,333.7 221.7,336.1 221.9,337.3 222.1,337.7 222.3,337.5 222.5,336.5 222.8,334.9 223.0,333.4 223.2,332.4 223.4,332.0 223.6,332.9 223.8,334.7 224.0,336.6 224.3,338.3 224.5,339.9 224.7,340.9 224.9,341.4 225.1,341.9 225.3,342.2 225.6,342.2 225.8,342.4 226.0,342.8 226.2,342.9 226.4,342.9 226.6,342.7 226.9,342.6 227.1,342.7 227.3,342.9 227.5,343.0 227.7,342.9 227.9,343.0 228.1,343.2 228.4,343.3 228.6,343.1 228.8,342.9 229.0,343.0 229.2,343.1 229.4,343.0 229.7,343.2 229.9,343.2 230.1,342.9 230.3,343.0 230.5,343.2 230.7,343.0 231.0,342.9 231.2,343.0 231.4,343.1 231.6,343.1 231.8,343.3 232.0,343.4 232.2,343.4 232.5,343.4 232.7,343.2 232.9,343.2 233.1,343.3 233.3,343.2 233.5,343.0 233.8,343.1 234.0,343.1 234.2,343.2 234.4,343.3 234.6,343.3 234.8,343.2 235.1,343.0 235.3,342.8 235.5,342.9 235.7,343.2 235.9,343.4 236.1,343.6 236.3,343.5 236.6,343.2 236.8,343.2 237.0,343.5 237.2,343.2 237.4,342.9 237.6,343.0 237.9,343.1 238.1,343.2 238.3,343.4 238.5,343.5 238.7,343.4 238.9,343.3 239.2,343.2 239.4,343.0 239.6,342.9 239.8,343.0 240.0,343.1 240.2,343.3 240.4,343.3 240.7,342.9 240.9,342.9 241.1,343.0 241.3,343.3 241.5,343.4 241.7,343.3 242.0,343.4 242.2,343.4 242.4,343.3 242.6,343.1 242.8,343.0 243.0,343.1 243.3,343.3 243.5,343.3 243.7,343.3 243.9,343.2 244.1,343.2 244.3,343.3 244.5,343.4 244.8,343.3 245.0,343.1 245.2,342.9 245.4,342.9 245.6,342.9 245.8,342.8 246.1,342.7 246.3,342.6 246.5,342.7 246.7,343.0 246.9,343.0 247.1,343.0 247.4,342.9 247.6,342.7 247.8,342.5 248.0,342.4 248.2,342.4 248.4,342.4 248.6,342.3 248.9,342.4 249.1,342.3 249.3,341.8 249.5,341.0 249.7,340.1 249.9,339.3 250.2,338.1 250.4,336.3 250.6,334.1 250.8,331.3 251.0,328.7 251.2,326.9 251.5,326.1 251.7,326.6 251.9,328.5 252.1,330.7 252.3,332.9 252.5,334.6 252.7,335.6 253.0,335.8 253.2,335.6 253.4,335.2 253.6,335.0 253.8,335.1 254.0,335.6 254.3,336.3 254.5,337.4 254.7,338.5 254.9,339.5 255.1,340.5 255.3,341.3 255.6,342.0 255.8,342.3 256.0,342.4 256.2,342.4 256.4,342.6 256.6,342.8 256.8,342.9 257.1,342.8 257.3,342.8 257.5,343.0 257.7,342.9 257.9,342.8 258.1,343.0 258.4,343.1 258.6,342.9 258.8,342.8 259.0,342.8 259.2,342.8 259.4,342.9 259.7,343.2 259.9,343.4 260.1,343.2 260.3,343.1 260.5,343.1 260.7,343.0 260.9,343.0 261.2,343.0 261.4,343.0 261.6,342.9 261.8,343.1 262.0,343.1 262.2,343.2 262.5,343.2 262.7,343.1 262.9,343.3 263.1,343.5 263.3,343.3 263.5,343.2 263.8,343.2 264.0,343.3 264.2,343.4 264.4,343.5 264.6,343.1 264.8,342.9 265.0,343.3 265.3,343.4 265.5,343.2 265.7,343.4 265.9,343.8 266.1,343.7 266.3,343.5 266.6,343.3 266.8,342.9 267.0,342.9 267.2,343.1 267.4,343.1 267.6,343.0 267.9,343.1 268.1,343.2 268.3,343.1 268.5,343.0 268.7,343.1 268.9,343.1 269.1,343.0 269.4,342.8 269.6,342.8 269.8,343.0 270.0,343.2 270.2,343.1 270.4,343.0 270.7,343.1 270.9,343.0 271.1,342.8 271.3,342.9 271.5,342.9 271.7,342.9 272.0,342.9 272.2,342.9 272.4,343.1 272.6,343.2 272.8,343.0 273.0,342.8 273.2,342.7 273.5,342.5 273.7,342.3 273.9,342.4 274.1,342.6 274.3,342.7 274.5,342.8 274.8,342.7 275.0,342.6 275.2,342.7 275.4,342.9 275.6,342.8 275.8,342.3 276.1,342.1 276.3,342.1 276.5,342.0 276.7,341.8 276.9,341.5 277.1,341.1 277.3,340.6 277.6,340.1 277.8,339.5 278.0,338.5 278.2,336.8 278.4,334.7 278.6,332.2 278.9,329.1 279.1,325.5 279.3,321.9 279.5,318.9 279.7,317.4 279.9,317.6 280.2,319.1 280.4,321.3 280.6,323.7 280.8,325.7 281.0,326.9 281.2,327.3 281.4,327.4 281.7,327.5 281.9,327.8 282.1,328.5 282.3,330.2 282.5,332.3 282.7,334.1 283.0,335.7 283.2,337.4 283.4,339.0 283.6,340.2 283.8,340.9 284.0,341.6 284.3,342.0 284.5,342.0 284.7,342.0 284.9,342.4 285.1,342.7 285.3,342.7 285.5,342.7 285.8,342.7 286.0,342.7 286.2,342.8 286.4,343.0 286.6,343.2 286.8,343.3 287.1,343.2 287.3,342.9 287.5,342.8 287.7,342.9 287.9,343.1 288.1,343.2 288.4,343.1 288.6,343.0 288.8,342.8 289.0,342.6 289.2,342.9 289.4,343.0 289.6,343.1 289.9,343.3 290.1,343.4 290.3,343.3 290.5,343.1 290.7,343.0 290.9,343.0 291.2,343.0 291.4,343.3 291.6,343.4 291.8,343.3 292.0,343.3 292.2,343.3 292.5,343.2 292.7,343.3 292.9,343.4 293.1,343.3 293.3,343.3 293.5,343.2 293.7,343.1 294.0,343.1 294.2,343.2 294.4,343.4 294.6,343.4 294.8,343.1 295.0,343.0 295.3,343.0 295.5,343.1 295.7,343.0 295.9,343.1 296.1,343.3 296.3,343.3 296.6,343.1 296.8,343.3 297.0,343.3 297.2,343.2 297.4,343.2 297.6,343.1 297.8,343.2 298.1,343.0 298.3,342.8 298.5,343.0 298.7,343.4 298.9,343.6 299.1,343.5 299.4,343.4 299.6,343.4 299.8,343.2 300.0,342.9 300.2,343.0 300.4,343.3 300.7,343.4 300.9,343.4 301.1,343.3 301.3,343.1 301.5,343.3 301.7,343.5 302.0,343.3 302.2,343.1 302.4,342.9 302.6,343.0 302.8,343.3 303.0,343.5 303.2,343.3 303.5,343.0 303.7,343.1 303.9,343.5 304.1,343.5 304.3,343.0 304.5,342.8 304.8,343.0 305.0,343.1 305.2,343.1 305.4,343.4 305.6,343.5 305.8,343.4 306.1,343.2 306.3,343.1 306.5,343.2 306.7,343.5 306.9,343.3 307.1,343.3 307.3,343.5 307.6,343.4 307.8,343.3 308.0,343.3 308.2,343.4 308.4,343.5 308.6,343.5 308.9,343.4 309.1,343.4 309.3,343.4 309.5,343.3 309.7,343.4 309.9,343.4 310.2,343.2 310.4,343.0 310.6,343.2 310.8,343.3 311.0,343.3 311.2,343.4 311.4,343.6 311.7,343.3 311.9,343.1 312.1,343.2 312.3,343.2 312.5,343.1 312.7,343.2 313.0,343.3 313.2,343.3 313.4,343.3 313.6,343.3 313.8,343.2 314.0,343.2 314.3,343.3 314.5,343.2 314.7,343.2 314.9,343.3 315.1,343.3 315.3,343.3 315.5,343.3 315.8,343.4 316.0,343.4 316.2,343.3 316.4,343.1 316.6,343.2 316.8,343.3 317.1,343.2 317.3,343.2 317.5,343.3 317.7,343.3 317.9,343.3 318.1,343.3 318.4,343.3 318.6,343.4 318.8,343.6 319.0,343.5 319.2,343.4 319.4,343.3 319.6,343.2 319.9,343.3 320.1,343.3 320.3,343.2 320.5,343.2 320.7,343.4 320.9,343.4 321.2,343.1 321.4,343.0 321.6,343.1 321.8,343.2 322.0,343.3 322.2,343.3 322.5,343.3 322.7,343.4 322.9,343.3 323.1,343.4 323.3,343.6 323.5,343.4 323.7,343.1 324.0,343.1 324.2,343.2 324.4,343.4 324.6,343.4 324.8,343.3 325.0,343.3 325.3,343.2 325.5,343.1 325.7,343.2 325.9,343.1 326.1,342.9 326.3,343.0 326.6,343.2 326.8,343.1 327.0,343.0 327.2,343.1 327.4,343.2 327.6,343.0 327.8,342.7 328.1,342.4 328.3,342.5 328.5,342.5 328.7,342.3 328.9,341.9 329.1,341.6 329.4,341.0 329.6,340.2 329.8,339.5 330.0,338.9 330.2,338.3 330.4,337.7 330.7,337.3 330.9,336.9 331.1,336.9 331.3,337.0 331.5,337.1 331.7,337.3 331.9,337.0 332.2,336.3 332.4,335.3 332.6,333.9 332.8,332.0 333.0,329.6 333.2,327.4 333.5,325.8 333.7,325.0 333.9,325.2 334.1,326.7 334.3,329.0 334.5,331.4 334.8,333.6 335.0,335.5 335.2,337.3 335.4,338.7 335.6,339.7 335.8,340.2 336.0,340.7 336.3,341.4 336.5,341.9 336.7,342.1 336.9,342.3 337.1,342.3 337.3,342.3 337.6,342.3 337.8,342.2 338.0,342.2 338.2,342.5 338.4,342.7 338.6,342.6 338.9,342.7 339.1,343.0 339.3,343.1 339.5,343.1 339.7,343.3 339.9,343.1 340.1,342.9 340.4,343.0 340.6,343.1 340.8,343.0 341.0,343.0 341.2,342.9 341.4,343.0 341.7,343.2 341.9,343.2 342.1,343.1 342.3,343.0 342.5,343.0 342.7,343.1 343.0,343.2 343.2,343.1 343.4,343.2 343.6,343.2 343.8,343.3 344.0,343.4 344.2,343.3 344.5,343.2 344.7,343.2 344.9,343.0 345.1,343.1 345.3,343.5 345.5,343.6 345.8,343.4 346.0,343.3 346.2,343.2 346.4,343.0 346.6,343.1 346.8,343.2 347.1,343.1 347.3,343.0 347.5,343.0 347.7,342.8 347.9,342.8 348.1,343.1 348.3,343.1 348.6,343.0 348.8,343.1 349.0,343.1 349.2,343.1 349.4,343.2 349.6,343.2 349.9,343.2 350.1,343.1 350.3,343.0 350.5,342.9 350.7,342.8 350.9,343.0 351.2,343.2 351.4,343.2 351.6,343.2 351.8,343.0 352.0,343.1 352.2,343.3 352.4,343.2 352.7,343.0 352.9,343.1 353.1,343.1 353.3,342.8 353.5,342.8 353.7,342.9 354.0,342.9 354.2,342.9 354.4,342.7 354.6,342.4 354.8,342.1 355.0,341.7 355.3,341.3 355.5,340.7 355.7,340.1 355.9,339.6 356.1,339.3 356.3,339.2 356.5,339.2 356.8,338.7 357.0,338.4 357.2,338.2 357.4,337.9 357.6,337.5 357.8,336.9 358.1,336.3 358.3,335.8 358.5,335.7 358.7,336.0 358.9,336.5 359.1,337.1 359.4,337.7 359.6,338.4 359.8,339.2 360.0,340.0 360.2,340.6 360.4,341.2 360.6,341.6 360.9,341.8 361.1,342.2 361.3,342.5 361.5,342.5 361.7,342.5 361.9,342.8 362.2,343.0 362.4,342.9 362.6,342.9 362.8,343.0 363.0,343.0 363.2,343.0 363.5,342.9 363.7,342.8 363.9,343.0 364.1,343.1 364.3,343.1 364.5,343.0 364.7,343.0 365.0,343.0 365.2,343.1 365.4,343.1 365.6,343.0 365.8,343.1 366.0,343.3 366.3,343.3 366.5,343.3 366.7,343.5 366.9,343.4 367.1,343.2 367.3,343.0 367.6,343.1 367.8,343.3 368.0,343.5 368.2,343.4 368.4,343.2 368.6,343.3 368.8,343.2 369.1,342.9 369.3,343.0 369.5,343.1 369.7,343.0 369.9,343.1 370.1,343.3 370.4,343.2 370.6,343.1 370.8,343.3 371.0,343.4 371.2,343.3 371.4,343.4 371.7,343.3 371.9,343.0 372.1,343.1 372.3,343.3 372.5,343.3 372.7,343.1 372.9,343.0 373.2,343.2 373.4,343.2 373.6,343.3 373.8,343.4 374.0,343.5 374.2,343.3 374.5,343.1 374.7,343.1 374.9,343.1 375.1,343.0 375.3,343.0 375.5,343.1 375.8,343.2 376.0,343.2 376.2,343.1 376.4,343.1 376.6,343.2 376.8,343.2 377.0,343.3 377.3,343.2 377.5,342.9 377.7,342.7 377.9,342.6 378.1,342.5 378.3,342.3 378.6,341.9 378.8,341.6 379.0,341.0 379.2,339.9 379.4,339.0 379.6,338.2 379.9,337.4 380.1,336.7 380.3,336.1 380.5,336.0 380.7,336.5 380.9,337.3 381.1,338.3 381.4,339.5 381.6,340.5 381.8,341.1 382.0,341.5 382.2,341.9 382.4,342.4 382.7,342.6 382.9,342.6 383.1,342.5 383.3,342.4 383.5,342.5 383.7,342.6 384.0,342.4 384.2,342.0 384.4,341.6 384.6,341.2 384.8,340.8 385.0,340.5 385.2,340.1 385.5,339.8 385.7,339.8 385.9,340.2 386.1,340.8 386.3,341.2 386.5,341.6 386.8,342.1 387.0,342.5 387.2,342.6 387.4,342.6 387.6,343.0 387.8,343.3 388.1,343.1 388.3,342.8 388.5,343.0 388.7,343.3 388.9,343.3 389.1,343.3 389.3,343.4 389.6,343.6 389.8,343.5 390.0,343.5 390.2,343.5 390.4,343.4 390.6,343.2 390.9,343.1 391.1,343.1 391.3,343.2 391.5,343.2 391.7,343.1 391.9,343.1 392.2,343.2 392.4,343.3 392.6,343.2 392.8,343.1 393.0,343.2 393.2,343.1 393.4,343.1 393.7,343.3 393.9,343.5 394.1,343.4 394.3,343.2 394.5,343.2 394.7,343.2 395.0,343.1 395.2,343.2 395.4,343.3 395.6,343.2 395.8,343.1 396.0,343.2 396.3,343.1 396.5,343.3 396.7,343.5 396.9,343.4 397.1,343.2 397.3,343.1 397.5,343.2 397.8,343.2 398.0,343.0 398.2,343.1 398.4,343.4 398.6,343.5 398.8,343.5 399.1,343.2 399.3,343.1 399.5,343.3 399.7,343.4 399.9,343.3 400.1,343.2 400.4,343.2 400.6,343.2 400.8,343.2 401.0,343.2 401.2,343.2 401.4,343.5 401.6,343.5 401.9,343.4 402.1,343.3 402.3,343.2 402.5,343.3 402.7,343.2 402.9,343.0 403.2,343.0 403.4,343.0 403.6,343.2 403.8,343.1 404.0,342.8 404.2,342.9 404.5,343.1 404.7,343.1 404.9,342.9 405.1,342.5 405.3,342.1 405.5,342.0 405.7,341.8" fill="none" stroke="#000000" stroke-width="1.05" stroke-linejoin="round"/>
<polyline points="417.1,48.3 417.6,48.1 418.1,48.2 418.6,48.4 419.1,48.5 419.6,48.5 420.1,48.4 420.6,48.3 421.1,48.4 421.6,48.5 422.1,48.3 422.6,48.2 423.1,48.3 423.6,48.4 424.1,48.4 424.6,48.3 425.1,48.2 425.6,48.4 426.1,48.4 426.6,48.3 427.1,48.6 427.6,48.6 428.1,48.5 428.6,48.6 429.1,48.8 429.6,48.7 430.1,48.6 430.6,48.7 431.1,48.6 431.6,48.4 432.1,48.2 432.6,48.3 433.1,48.4 433.6,48.2 434.1,48.2 434.6,48.2 435.1,48.1 435.6,48.1 436.1,48.3 436.6,48.3 437.1,48.2 437.6,48.0 438.1,48.1 438.6,48.3 439.1,48.4 439.6,48.4 440.1,48.4 440.6,48.2 441.1,48.0 441.6,48.0 442.1,47.8 442.6,47.7 443.1,47.7 443.6,47.7 444.1,47.8 444.6,47.9 445.1,47.7 445.6,47.6 446.1,47.7 446.6,47.5 447.1,47.2 447.6,47.0 448.1,46.8 448.6,46.5 449.1,46.0 449.6,45.5 450.1,44.6 450.6,43.4 451.1,42.1 451.6,40.5 452.1,38.4 452.6,36.1 453.1,33.6 453.6,30.7 454.1,27.7 454.6,25.0 455.1,22.7 455.6,20.6 456.1,19.1 456.6,18.8 457.1,19.2 457.6,20.2 458.1,22.0 458.6,23.9 459.1,25.8 459.6,27.9 460.1,29.3 460.6,30.0 461.1,29.9 461.6,29.4 462.1,29.1 462.6,29.3 463.1,29.5 463.6,29.8 464.1,31.1 464.6,33.2 465.1,35.7 465.6,38.1 466.1,40.4 466.6,42.5 467.1,44.1 467.6,45.3 468.1,46.1 468.6,46.8 469.1,47.4 469.6,47.7 470.1,47.7 470.6,47.6 471.1,47.9 471.6,48.0 472.1,47.8 472.6,47.6 473.1,47.7 473.6,47.9 474.1,48.3 474.6,48.3 475.1,47.8 475.6,47.7 476.1,48.1 476.6,48.3 477.1,48.2 477.6,48.3 478.1,48.4 478.6,48.3 479.1,48.2 479.6,48.1 480.1,48.1 480.6,48.2 481.1,48.3 481.6,48.4 482.1,48.7 482.6,48.6 483.1,48.4 483.6,48.3 484.1,48.3 484.6,48.1 485.1,48.0 485.6,48.0 486.1,48.1 486.6,48.4 487.1,48.5 487.6,48.6 488.1,48.6 488.6,48.6 489.1,48.6 489.6,48.4 490.1,48.4 490.6,48.6 491.1,48.7 491.6,48.6" fill="none" stroke="#ff00ff" stroke-width="1.05" stroke-linejoin="round"/>
<polyline points="417.1,135.7 417.6,135.5 418.1,135.5 418.6,135.4 419.1,135.5 419.6,135.8 420.1,136.0 420.6,136.0 421.1,135.8 421.6,135.6 422.1,135.6 422.6,135.8 423.1,136.0 423.6,135.9 424.1,135.7 424.6,135.4 425.1,135.4 425.6,135.5 426.1,135.6 426.6,135.5 427.1,135.6 427.6,135.7 428.1,135.8 428.6,135.8 429.1,135.8 429.6,135.8 430.1,135.8 430.6,135.7 431.1,135.7 431.6,135.8 432.1,135.7 432.6,135.7 433.1,135.9 433.6,135.9 434.1,135.8 434.6,135.6 435.1,135.6 435.6,135.7 436.1,135.5 436.6,135.3 437.1,135.4 437.6,135.5 438.1,135.4 438.6,135.4 439.1,135.4 439.6,135.4 440.1,135.6 440.6,135.8 441.1,135.6 441.6,135.4 442.1,135.4 442.6,135.3 443.1,135.2 443.6,135.3 444.1,135.0 444.6,134.8 445.1,134.9 445.6,134.9 446.1,134.7 446.6,134.7 447.1,134.8 447.6,134.9 448.1,134.9 448.6,135.1 449.1,135.1 449.6,134.9 450.1,134.5 450.6,134.4 451.1,134.5 451.6,134.3 452.1,133.8 452.6,133.1 453.1,132.3 453.6,131.2 454.1,129.8 454.6,128.1 455.1,125.9 455.6,123.3 456.1,120.0 456.6,115.9 457.1,111.8 457.6,107.9 458.1,104.6 458.6,102.4 459.1,101.9 459.6,102.9 460.1,104.5 460.6,106.5 461.1,108.8 461.6,111.0 462.1,112.5 462.6,114.0 463.1,115.5 463.6,116.9 464.1,118.9 464.6,121.3 465.1,123.5 465.6,125.7 466.1,128.0 466.6,129.9 467.1,131.4 467.6,132.4 468.1,133.1 468.6,133.7 469.1,134.1 469.6,134.3 470.1,134.4 470.6,134.5 471.1,134.7 471.6,134.9 472.1,134.7 472.6,134.7 473.1,134.9 473.6,135.2 474.1,135.3 474.6,135.1 475.1,135.0 475.6,135.1 476.1,135.3 476.6,135.5 477.1,135.3 477.6,135.3 478.1,135.6 478.6,135.7 479.1,135.5 479.6,135.3 480.1,135.2 480.6,135.5 481.1,135.7 481.6,135.7 482.1,135.9 482.6,135.7 483.1,135.4 483.6,135.5 484.1,135.8 484.6,135.8 485.1,135.6 485.6,135.5 486.1,135.6 486.6,135.6 487.1,135.6 487.6,135.6 488.1,135.7 488.6,135.8 489.1,136.0 489.6,136.0 490.1,135.8 490.6,135.8 491.1,135.8 491.6,135.7" fill="none" stroke="#0000ff" stroke-width="1.05" stroke-linejoin="round"/>
<polyline points="417.1,225.7 417.6,226.0 418.1,225.8 418.6,225.5 419.1,225.5 419.6,225.4 420.1,225.4 420.6,225.6 421.1,225.7 421.6,225.6 422.1,225.6 422.6,225.7 423.1,225.7 423.6,225.5 424.1,225.6 424.6,225.7 425.1,225.9 425.6,225.9 426.1,225.6 426.6,225.5 427.1,225.4 427.6,225.3 428.1,225.2 428.6,225.2 429.1,225.4 429.6,225.5 430.1,225.6 430.6,225.6 431.1,225.7 431.6,225.6 432.1,225.4 432.6,225.5 433.1,225.7 433.6,225.8 434.1,225.6 434.6,225.4 435.1,225.4 435.6,225.6 436.1,225.7 436.6,225.6 437.1,225.7 437.6,225.8 438.1,225.6 438.6,225.4 439.1,225.3 439.6,225.3 440.1,225.4 440.6,225.4 441.1,225.2 441.6,225.1 442.1,225.2 442.6,225.2 443.1,225.2 443.6,225.0 444.1,225.0 444.6,224.9 445.1,224.9 445.6,224.8 446.1,225.0 446.6,225.1 447.1,224.9 447.6,224.8 448.1,224.8 448.6,224.7 449.1,224.3 449.6,224.0 450.1,224.1 450.6,224.3 451.1,224.0 451.6,223.4 452.1,222.7 452.6,221.5 453.1,220.0 453.6,218.5 454.1,216.3 454.6,213.3 455.1,209.8 455.6,205.8 456.1,201.4 456.6,196.9 457.1,192.8 457.6,190.1 458.1,188.5 458.6,188.5 459.1,190.6 459.6,194.1 460.1,197.9 460.6,201.5 461.1,204.7 461.6,206.9 462.1,208.2 462.6,209.1 463.1,209.5 463.6,209.8 464.1,210.2 464.6,211.0 465.1,212.5 465.6,214.2 466.1,215.9 466.6,217.6 467.1,219.1 467.6,220.7 468.1,222.2 468.6,223.1 469.1,223.7 469.6,224.0 470.1,224.1 470.6,224.5 471.1,224.8 471.6,224.8 472.1,224.8 472.6,224.8 473.1,225.0 473.6,225.0 474.1,225.1 474.6,225.3 475.1,225.5 475.6,225.4 476.1,225.2 476.6,225.4 477.1,225.6 477.6,225.3 478.1,225.1 478.6,225.2 479.1,225.3 479.6,225.3 480.1,225.5 480.6,225.6 481.1,225.6 481.6,225.8 482.1,225.7 482.6,225.2 483.1,225.2 483.6,225.5 484.1,225.7 484.6,225.7 485.1,225.5 485.6,225.5 486.1,225.7 486.6,225.8 487.1,225.5 487.6,225.3 488.1,225.5 488.6,225.5 489.1,225.5 489.6,225.4 490.1,225.4 490.6,225.6 491.1,225.7 491.6,225.7" fill="none" stroke="#ff0000" stroke-width="1.05" stroke-linejoin="round"/>
<polyline points="417.1,341.7 417.6,341.9 418.1,342.2 418.6,342.3 419.1,341.9 419.6,341.6 420.1,341.6 420.6,341.6 421.1,341.6 421.6,341.6 422.1,341.4 422.6,341.6 423.1,341.5 423.6,341.3 424.1,341.5 424.6,341.7 425.1,341.7 425.6,341.8 426.1,341.9 426.6,341.7 427.1,341.4 427.6,341.5 428.1,341.6 428.6,341.5 429.1,341.5 429.6,341.5 430.1,341.6 430.6,341.7 431.1,341.6 431.6,341.5 432.1,341.4 432.6,341.5 433.1,341.6 433.6,341.6 434.1,341.5 434.6,341.3 435.1,341.2 435.6,341.3 436.1,341.3 436.6,341.1 437.1,341.1 437.6,341.0 438.1,341.0 438.6,341.2 439.1,341.1 439.6,341.0 440.1,340.8 440.6,340.6 441.1,340.6 441.6,340.6 442.1,340.7 442.6,340.6 443.1,340.3 443.6,340.2 444.1,340.2 444.6,340.0 445.1,339.9 445.6,340.0 446.1,339.7 446.6,339.3 447.1,339.1 447.6,338.7 448.1,337.9 448.6,337.2 449.1,336.3 449.6,335.0 450.1,333.4 450.6,331.3 451.1,328.4 451.6,324.8 452.1,320.6 452.6,316.0 453.1,310.8 453.6,305.4 454.1,300.2 454.6,295.7 455.1,292.7 455.6,292.1 456.1,293.6 456.6,297.0 457.1,301.5 457.6,306.6 458.1,312.0 458.6,316.8 459.1,320.5 459.6,323.3 460.1,325.0 460.6,325.5 461.1,325.4 461.6,325.1 462.1,324.9 462.6,325.0 463.1,325.8 463.6,327.2 464.1,329.0 464.6,331.3 465.1,333.4 465.6,335.3 466.1,336.7 466.6,337.8 467.1,338.7 467.6,339.4 468.1,339.7 468.6,339.9 469.1,340.0 469.6,340.2 470.1,340.4 470.6,340.7 471.1,340.9 471.6,341.0 472.1,341.0 472.6,341.1 473.1,341.2 473.6,341.1 474.1,341.2 474.6,341.2 475.1,341.1 475.6,341.1 476.1,341.2 476.6,341.2 477.1,341.2 477.6,341.2 478.1,341.2 478.6,341.2 479.1,341.4 479.6,341.5 480.1,341.4 480.6,341.4 481.1,341.5 481.6,341.6 482.1,341.4 482.6,341.4 483.1,341.6 483.6,341.8 484.1,341.7 484.6,341.6 485.1,341.6 485.6,341.8 486.1,341.9 486.6,341.8 487.1,341.6 487.6,341.5 488.1,341.5 488.6,341.6 489.1,341.7 489.6,341.8 490.1,341.9 490.6,341.8 491.1,341.5 491.6,341.5" fill="none" stroke="#000000" stroke-width="1.05" stroke-linejoin="round"/>
<polyline points="496.0,48.5 496.5,48.5 497.0,48.6 497.5,48.4 498.0,48.5 498.5,48.7 499.0,48.7 499.5,48.7 500.0,48.4 500.5,48.2 501.0,48.1 501.5,48.2 502.0,48.4 502.5,48.2 503.0,47.6 503.5,47.2 504.0,47.0 504.5,47.0 505.0,47.0 505.5,46.6 506.0,46.2 506.5,46.0 507.0,45.8 507.5,45.3 508.0,44.6 508.5,44.0 509.0,43.3 509.5,42.7 510.0,42.1 510.5,41.4 511.0,40.6 511.5,40.1 512.0,39.3 512.5,38.2 513.0,37.4 513.5,36.7 514.0,36.1 514.5,35.4 515.0,34.8 515.5,34.3 516.0,33.7 516.5,33.2 517.0,33.0 517.5,32.9 518.0,33.0 518.5,33.1 519.0,33.2 519.5,33.2 520.0,33.2 520.5,33.5 521.0,33.7 521.5,33.7 522.0,34.0 522.5,34.5 523.0,34.8 523.5,35.2 524.0,35.5 524.5,35.5 525.0,35.7 525.5,36.0 526.0,36.2 526.5,36.3 527.0,36.5 527.5,36.7 528.0,36.6 528.5,36.8 529.0,37.1 529.5,37.4 530.0,37.6 530.5,37.9 531.0,38.2 531.5,38.4 532.0,38.4 532.5,38.6 533.0,38.9 533.5,39.0 534.0,39.0 534.5,39.1 535.0,39.5 535.5,39.7 536.0,39.9 536.5,40.0 537.0,39.9 537.5,39.9 538.0,40.2 538.5,40.4 539.0,40.5 539.5,40.5 540.0,40.7 540.5,41.0 541.0,41.1 541.5,40.8 542.0,40.6 542.5,40.3 543.0,39.7 543.5,39.3 544.0,38.8 544.5,38.1 545.0,37.1 545.5,36.4 546.0,35.9 546.5,35.4 547.0,34.7 547.5,34.5 548.0,35.1 548.5,35.9 549.0,36.3 549.5,36.7 550.0,37.2 550.5,37.9 551.0,39.0 551.5,39.8 552.0,40.4 552.5,41.0 553.0,41.6 553.5,42.0 554.0,42.4 554.5,43.2 555.0,43.8 555.5,44.2 556.0,44.8 556.5,45.4 557.0,45.9 557.5,46.1 558.0,46.4 558.5,46.8 559.0,47.2 559.5,47.6 560.0,48.2 560.5,48.5 561.0,48.6 561.5,48.7 562.0,48.7 562.5,48.7 563.0,48.8 563.5,48.9 564.0,49.0 564.5,48.8 565.0,48.6 565.5,48.6 566.0,48.6 566.5,48.6 567.0,48.7 567.5,48.7 568.0,48.6 568.5,48.7 569.0,48.9 569.5,49.0" fill="none" stroke="#ff00ff" stroke-width="1.05" stroke-linejoin="round"/>
<polyline points="496.0,137.5 496.5,137.5 497.0,137.5 497.5,137.2 498.0,137.1 498.5,137.2 499.0,137.0 499.5,136.8 500.0,137.1 500.5,137.1 501.0,136.9 501.5,136.6 502.0,136.5 502.5,136.5 503.0,136.6 503.5,136.9 504.0,137.2 504.5,137.3 505.0,137.1 505.5,136.9 506.0,136.8 506.5,136.8 507.0,136.7 507.5,136.6 508.0,136.7 508.5,136.5 509.0,136.2 509.5,136.3 510.0,136.5 510.5,136.3 511.0,136.0 511.5,135.9 512.0,135.7 512.5,135.7 513.0,135.8 513.5,135.5 514.0,135.3 514.5,135.3 515.0,135.0 515.5,134.5 516.0,134.1 516.5,133.9 517.0,133.5 517.5,132.9 518.0,132.2 518.5,131.6 519.0,131.1 519.5,130.4 520.0,129.7 520.5,129.1 521.0,128.5 521.5,127.6 522.0,126.8 522.5,126.0 523.0,125.3 523.5,124.2 524.0,123.2 524.5,122.4 525.0,121.3 525.5,120.0 526.0,119.1 526.5,118.2 527.0,117.2 527.5,116.6 528.0,116.0 528.5,115.4 529.0,115.0 529.5,114.7 530.0,114.4 530.5,114.3 531.0,114.5 531.5,114.9 532.0,115.4 532.5,116.2 533.0,117.0 533.5,118.0 534.0,118.9 534.5,119.9 535.0,121.0 535.5,121.8 536.0,122.7 536.5,123.8 537.0,125.1 537.5,126.1 538.0,126.7 538.5,127.6 539.0,128.6 539.5,129.2 540.0,129.7 540.5,130.2 541.0,130.7 541.5,131.0 542.0,131.4 542.5,131.6 543.0,131.7 543.5,131.7 544.0,131.7 544.5,131.3 545.0,130.9 545.5,130.6 546.0,130.1 546.5,129.6 547.0,128.8 547.5,128.2 548.0,127.8 548.5,127.3 549.0,126.9 549.5,126.8 550.0,126.9 550.5,127.3 551.0,127.6 551.5,127.9 552.0,128.6 552.5,129.2 553.0,129.4 553.5,129.6 554.0,129.9 554.5,130.3 555.0,130.7 555.5,131.1 556.0,131.6 556.5,132.2 557.0,132.8 557.5,133.4 558.0,134.3 558.5,135.1 559.0,135.4 559.5,135.9 560.0,136.3 560.5,136.5 561.0,136.7 561.5,136.9 562.0,136.8 562.5,136.8 563.0,136.9 563.5,137.0 564.0,136.8 564.5,136.7 565.0,136.8 565.5,137.0 566.0,136.9 566.5,136.8 567.0,136.8 567.5,136.9 568.0,137.1 568.5,137.2 569.0,137.2 569.5,137.1" fill="none" stroke="#0000ff" stroke-width="1.05" stroke-linejoin="round"/>
<polyline points="496.0,225.6 496.5,225.6 497.0,225.8 497.5,226.0 498.0,225.9 498.5,225.8 499.0,225.5 499.5,225.3 500.0,225.2 500.5,225.2 501.0,225.3 501.5,225.4 502.0,225.3 502.5,225.1 503.0,225.2 503.5,225.2 504.0,225.2 504.5,225.1 505.0,224.9 505.5,224.7 506.0,224.7 506.5,224.6 507.0,224.4 507.5,224.3 508.0,224.2 508.5,223.8 509.0,223.4 509.5,223.4 510.0,222.9 510.5,222.4 511.0,222.5 511.5,222.5 512.0,221.8 512.5,220.9 513.0,220.5 513.5,220.4 514.0,219.9 514.5,219.4 515.0,219.1 515.5,218.5 516.0,217.7 516.5,217.0 517.0,216.3 517.5,215.4 518.0,214.5 518.5,213.9 519.0,213.5 519.5,212.7 520.0,211.9 520.5,211.4 521.0,210.6 521.5,209.9 522.0,209.5 522.5,209.0 523.0,208.3 523.5,207.6 524.0,207.0 524.5,206.6 525.0,206.3 525.5,206.2 526.0,206.1 526.5,206.2 527.0,206.5 527.5,206.7 528.0,206.8 528.5,207.0 529.0,207.5 529.5,208.3 530.0,209.2 530.5,210.2 531.0,211.1 531.5,211.5 532.0,211.8 532.5,212.8 533.0,213.6 533.5,214.1 534.0,214.7 534.5,215.4 535.0,216.1 535.5,216.6 536.0,217.2 536.5,218.0 537.0,218.5 537.5,218.7 538.0,219.1 538.5,219.5 539.0,219.6 539.5,219.7 540.0,220.0 540.5,220.3 541.0,220.4 541.5,220.5 542.0,220.7 542.5,220.5 543.0,220.3 543.5,220.2 544.0,220.0 544.5,219.6 545.0,219.1 545.5,218.6 546.0,218.3 546.5,217.9 547.0,217.2 547.5,216.8 548.0,216.4 548.5,216.1 549.0,215.8 549.5,215.5 550.0,215.4 550.5,215.5 551.0,215.8 551.5,216.0 552.0,216.0 552.5,216.0 553.0,216.4 553.5,216.9 554.0,217.5 554.5,218.3 555.0,219.0 555.5,219.4 556.0,219.7 556.5,220.4 557.0,221.2 557.5,221.7 558.0,222.1 558.5,222.5 559.0,223.0 559.5,223.4 560.0,223.6 560.5,223.7 561.0,224.0 561.5,224.4 562.0,224.7 562.5,224.9 563.0,224.9 563.5,224.9 564.0,225.0 564.5,225.3 565.0,225.6 565.5,225.6 566.0,225.5 566.5,225.7 567.0,225.8 567.5,225.5 568.0,225.4 568.5,225.7 569.0,225.7 569.5,225.5" fill="none" stroke="#ff0000" stroke-width="1.05" stroke-linejoin="round"/>
<polyline points="496.0,341.1 496.5,341.2 497.0,341.4 497.5,341.3 498.0,341.2 498.5,341.1 499.0,341.0 499.5,341.0 500.0,340.9 500.5,340.9 501.0,340.7 501.5,340.4 502.0,340.4 502.5,340.3 503.0,340.1 503.5,340.0 504.0,340.1 504.5,340.0 505.0,339.8 505.5,339.6 506.0,339.4 506.5,339.2 507.0,338.9 507.5,338.4 508.0,337.9 508.5,337.5 509.0,337.4 509.5,337.1 510.0,336.5 510.5,335.5 511.0,334.4 511.5,333.6 512.0,332.9 512.5,332.1 513.0,331.1 513.5,329.8 514.0,328.4 514.5,327.2 515.0,325.7 515.5,324.1 516.0,322.6 516.5,321.1 517.0,319.5 517.5,317.6 518.0,315.7 518.5,314.2 519.0,313.1 519.5,311.9 520.0,310.4 520.5,309.4 521.0,309.1 521.5,308.9 522.0,309.2 522.5,310.1 523.0,310.9 523.5,311.6 524.0,312.8 524.5,314.4 525.0,316.0 525.5,317.7 526.0,319.4 526.5,321.0 527.0,322.4 527.5,324.0 528.0,325.6 528.5,327.0 529.0,328.3 529.5,329.6 530.0,330.8 530.5,331.8 531.0,332.7 531.5,333.6 532.0,334.4 532.5,335.3 533.0,336.0 533.5,336.3 534.0,336.6 534.5,337.0 535.0,337.5 535.5,337.9 536.0,338.2 536.5,338.3 537.0,338.3 537.5,338.1 538.0,338.0 538.5,338.0 539.0,337.8 539.5,337.6 540.0,337.4 540.5,337.2 541.0,336.8 541.5,336.4 542.0,336.0 542.5,335.4 543.0,335.0 543.5,334.4 544.0,333.7 544.5,333.1 545.0,332.5 545.5,331.9 546.0,331.5 546.5,331.2 547.0,330.9 547.5,330.6 548.0,330.3 548.5,330.4 549.0,331.0 549.5,331.2 550.0,331.4 550.5,332.0 551.0,332.8 551.5,333.4 552.0,334.0 552.5,334.8 553.0,335.6 553.5,336.3 554.0,336.8 554.5,337.3 555.0,338.0 555.5,338.6 556.0,339.2 556.5,339.5 557.0,339.7 557.5,339.8 558.0,340.1 558.5,340.3 559.0,340.6 559.5,341.0 560.0,341.3 560.5,341.4 561.0,341.4 561.5,341.4 562.0,341.5 562.5,341.6 563.0,341.6 563.5,341.6 564.0,341.6 564.5,341.7 565.0,341.8 565.5,341.7 566.0,341.9 566.5,342.1 567.0,342.3 567.5,342.0 568.0,341.7 568.5,341.7 569.0,341.8 569.5,341.9" fill="none" stroke="#000000" stroke-width="1.05" stroke-linejoin="round"/>
<rect x="28.1" y="0.9" width="377.65" height="345.85" fill="none" stroke="#000" stroke-width="1.9"/>
<rect x="417.05" y="0.9" width="74.75" height="345.90000000000003" fill="none" stroke="#000" stroke-width="1.9"/>
<rect x="495.95" y="0.9" width="74.00000000000006" height="345.90000000000003" fill="none" stroke="#000" stroke-width="1.9"/>
<line x1="28.1" y1="346.75" x2="28.1" y2="352.55" stroke="#000" stroke-width="1.5"/>
<line x1="55.1" y1="346.75" x2="55.1" y2="350.45" stroke="#000" stroke-width="1.5"/>
<line x1="82.0" y1="346.75" x2="82.0" y2="352.55" stroke="#000" stroke-width="1.5"/>
<line x1="109.0" y1="346.75" x2="109.0" y2="350.45" stroke="#000" stroke-width="1.5"/>
<line x1="136.0" y1="346.75" x2="136.0" y2="352.55" stroke="#000" stroke-width="1.5"/>
<line x1="163.0" y1="346.75" x2="163.0" y2="350.45" stroke="#000" stroke-width="1.5"/>
<line x1="189.9" y1="346.75" x2="189.9" y2="352.55" stroke="#000" stroke-width="1.5"/>
<line x1="216.9" y1="346.75" x2="216.9" y2="350.45" stroke="#000" stroke-width="1.5"/>
<line x1="243.9" y1="346.75" x2="243.9" y2="352.55" stroke="#000" stroke-width="1.5"/>
<line x1="270.9" y1="346.75" x2="270.9" y2="350.45" stroke="#000" stroke-width="1.5"/>
<line x1="297.9" y1="346.75" x2="297.9" y2="352.55" stroke="#000" stroke-width="1.5"/>
<line x1="324.8" y1="346.75" x2="324.8" y2="350.45" stroke="#000" stroke-width="1.5"/>
<line x1="351.8" y1="346.75" x2="351.8" y2="352.55" stroke="#000" stroke-width="1.5"/>
<line x1="378.8" y1="346.75" x2="378.8" y2="350.45" stroke="#000" stroke-width="1.5"/>
<line x1="405.8" y1="346.75" x2="405.8" y2="352.55" stroke="#000" stroke-width="1.5"/>
<line x1="417.1" y1="346.75" x2="417.1" y2="350.35" stroke="#000" stroke-width="1.5"/>
<line x1="443.2" y1="346.75" x2="443.2" y2="352.55" stroke="#000" stroke-width="1.5"/>
<line x1="469.6" y1="346.75" x2="469.6" y2="350.45" stroke="#000" stroke-width="1.5"/>
<line x1="517.0" y1="346.75" x2="517.0" y2="350.45" stroke="#000" stroke-width="1.5"/>
<line x1="539.2" y1="346.75" x2="539.2" y2="352.55" stroke="#000" stroke-width="1.5"/>
<line x1="560.9" y1="346.75" x2="560.9" y2="350.45" stroke="#000" stroke-width="1.5"/>
<text transform="translate(28.1,371.4) scale(1.08,1)" font-size="18.7" text-anchor="middle">10</text>
<text transform="translate(82.0,371.4) scale(1.08,1)" font-size="18.7" text-anchor="middle">20</text>
<text transform="translate(136.0,371.4) scale(1.08,1)" font-size="18.7" text-anchor="middle">30</text>
<text transform="translate(189.9,371.4) scale(1.08,1)" font-size="18.7" text-anchor="middle">40</text>
<text transform="translate(243.9,371.4) scale(1.08,1)" font-size="18.7" text-anchor="middle">50</text>
<text transform="translate(297.9,371.4) scale(1.08,1)" font-size="18.7" text-anchor="middle">60</text>
<text transform="translate(351.8,371.4) scale(1.08,1)" font-size="18.7" text-anchor="middle">70</text>
<text transform="translate(405.8,371.4) scale(1.08,1)" font-size="18.7" text-anchor="middle">80</text>
<text transform="translate(443.2,371.4) scale(1.08,1)" font-size="18.7" text-anchor="middle">22</text>
<text transform="translate(539.2,371.4) scale(1.08,1)" font-size="18.7" text-anchor="middle">46</text>
<text x="338.0" y="392.7" font-size="28.2" text-anchor="middle">2θ (degree)</text>
<text transform="translate(20.5,148.0) rotate(-90)" font-size="28.3" text-anchor="middle">Intensity (a.u)</text>
<text x="29.7" y="21" font-size="24">(a)</text>
<text x="418.3" y="21" font-size="24">(b)</text>
<text x="497.3" y="21" font-size="24">(c)</text>
<text x="576.6" y="20.7" font-size="24">(d)</text>
<text x="307" y="20.6" font-size="20.8">x = 0.060</text>
<text x="307" y="98.2" font-size="20.8">x = 0.045</text>
<text x="307" y="176.8" font-size="20.8">x = 0.030</text>
<text x="307" y="260.3" font-size="20.8">x = 0.015</text>
<text transform="translate(98.5,277.7) rotate(-90)" font-size="13.8" text-anchor="middle">(100)</text>
<text transform="translate(138.6,277.7) rotate(-90)" font-size="13.8" text-anchor="middle">(110)</text>
<text transform="translate(190.5,313.4) rotate(-90)" font-size="13.8" text-anchor="middle">(102)</text>
<text transform="translate(217.4,298.8) rotate(-90)" font-size="13.8" text-anchor="middle">(202)</text>
<text transform="translate(234.1,295.3) rotate(-90)" font-size="13.8" text-anchor="middle">(020)</text>
<text transform="translate(253.8,303.1) rotate(-90)" font-size="13.8" text-anchor="middle">(201)</text>
<text transform="translate(284.2,298.8) rotate(-90)" font-size="13.8" text-anchor="middle">(211)</text>
<text transform="translate(336.7,302.0) rotate(-90)" font-size="13.8" text-anchor="middle">(202)</text>
<text transform="translate(359.9,312.6) rotate(-90)" font-size="13.8" text-anchor="middle">(030)</text>
<text transform="translate(380.0,303.9) rotate(-90)" font-size="13.8" text-anchor="middle">(131)</text>
<text transform="translate(394.7,308.5) rotate(-90)" font-size="13.8" text-anchor="middle">(311)</text>
<text transform="translate(458.7,267.9) rotate(-90)" font-size="13.8" text-anchor="middle">(100)</text>
<text transform="translate(521.6,279.5) rotate(-90)" font-size="13.8" text-anchor="middle">(202)</text>
<text transform="translate(553.0,302.5) rotate(-90)" font-size="13.8" text-anchor="middle">(020)</text>
</svg></body></html>
